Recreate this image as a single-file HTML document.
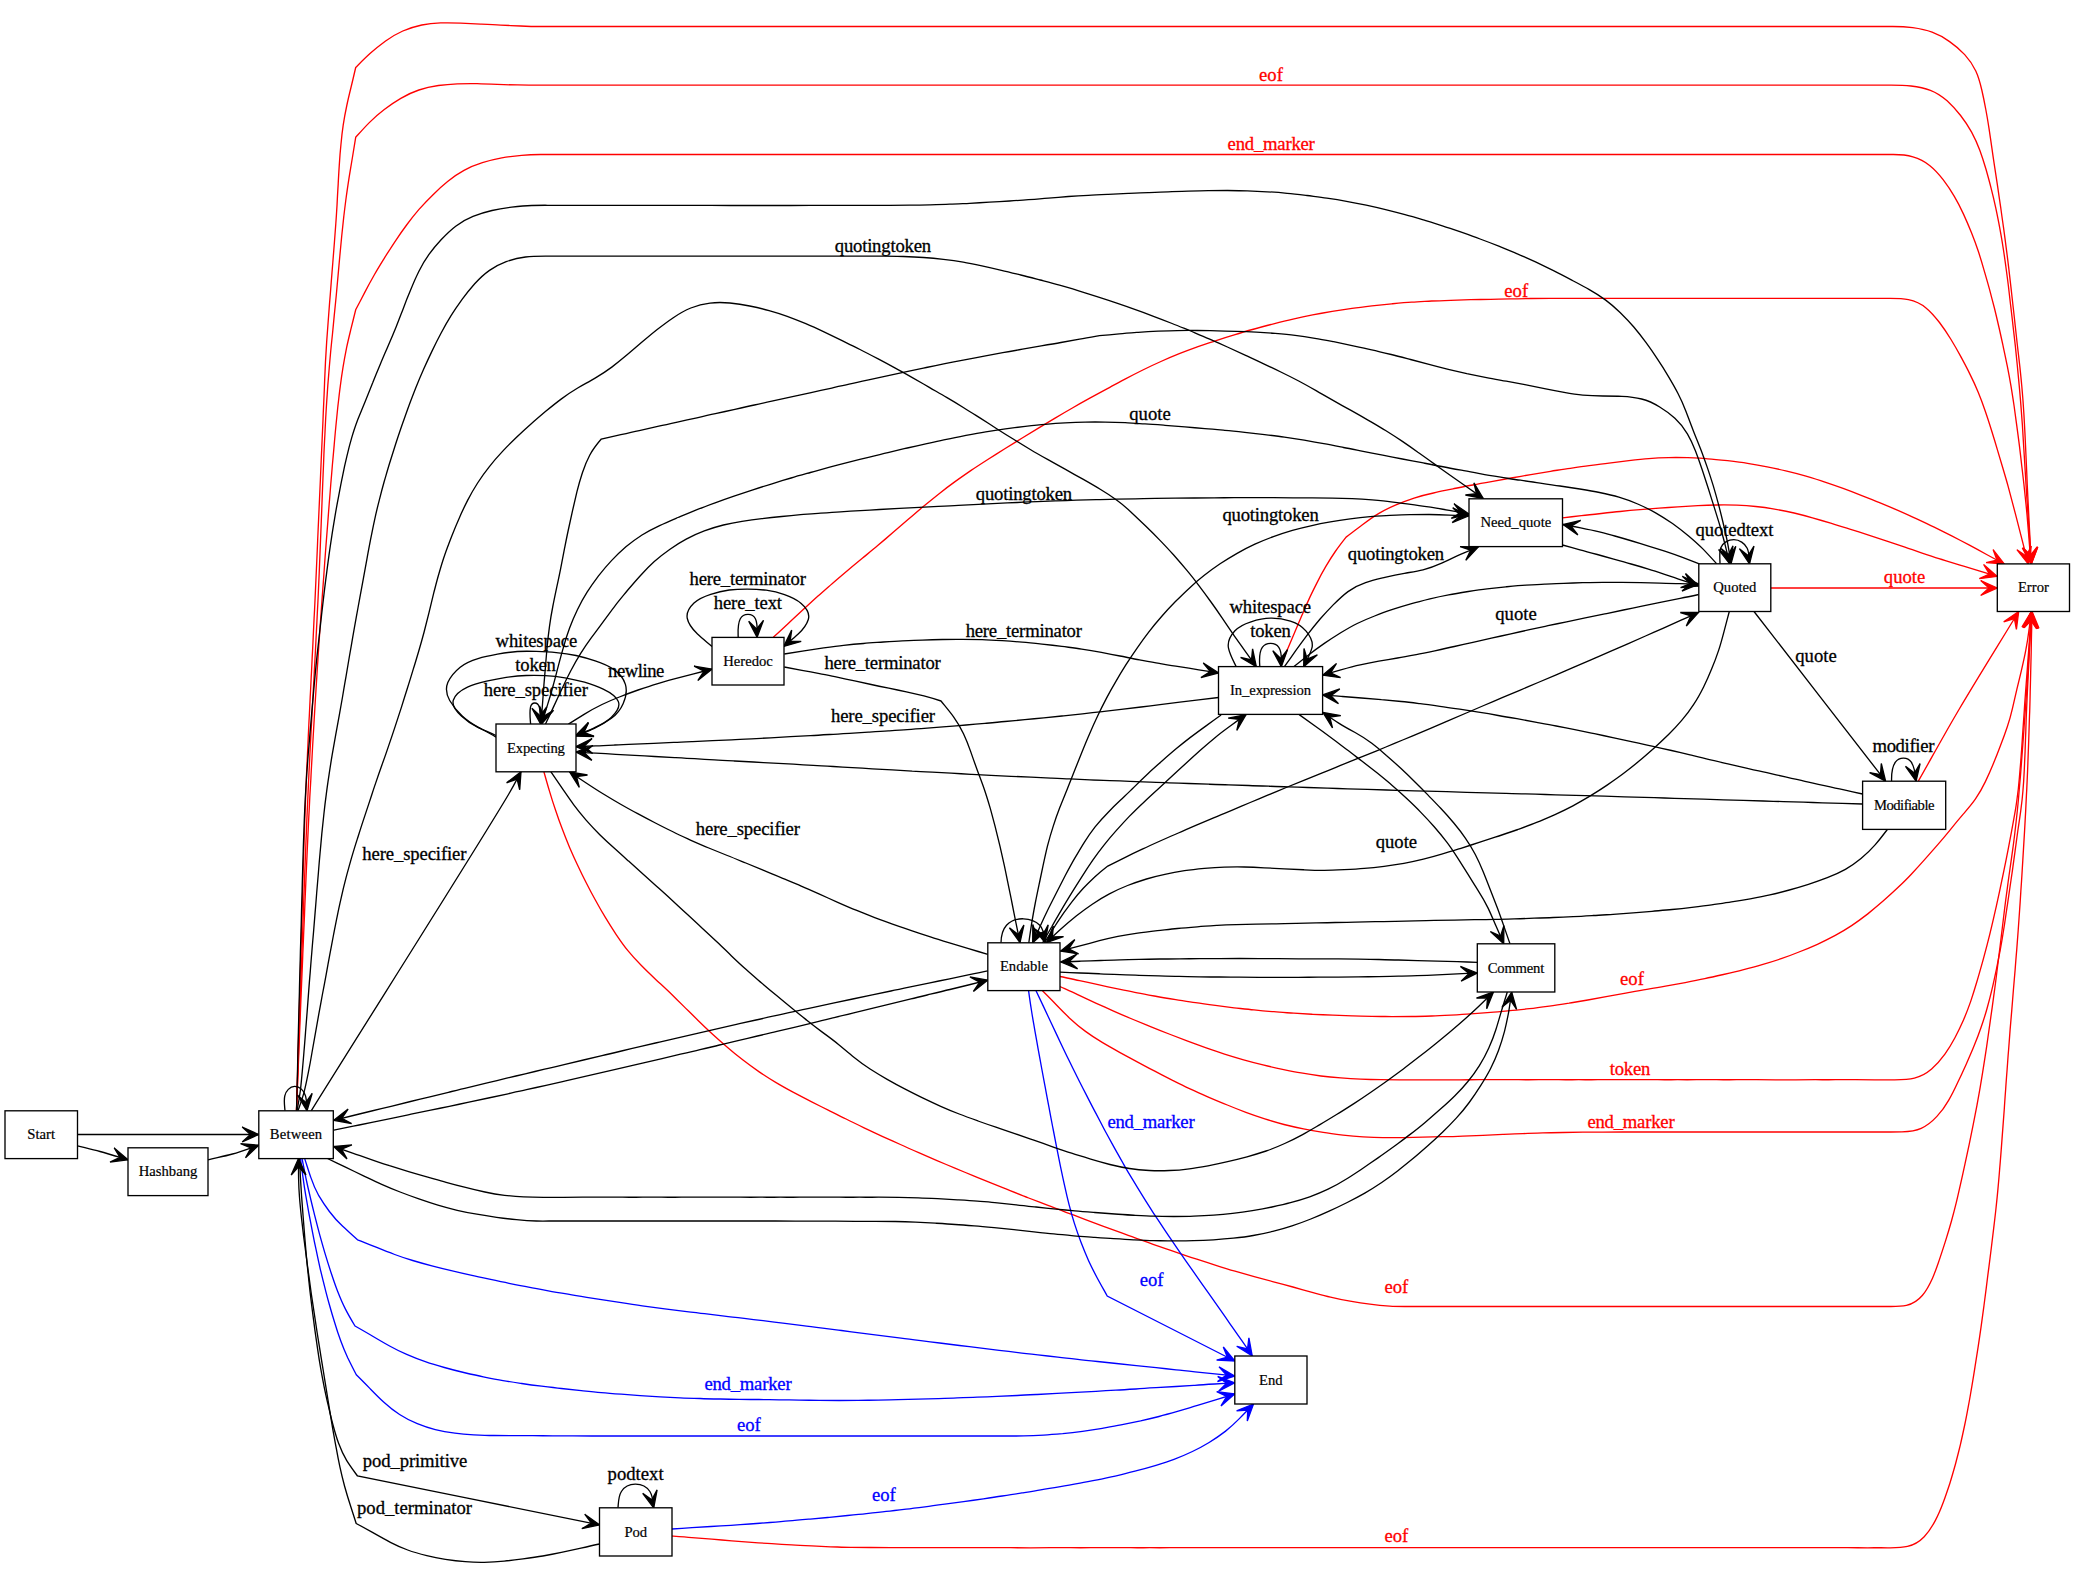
<!DOCTYPE html>
<html><head><meta charset="utf-8"><title>Tokenizer state diagram</title>
<style>html,body{margin:0;padding:0;background:#fff}svg{display:block}text{font-family:"Liberation Serif","DejaVu Serif",serif}</style></head><body>
<svg width="2075" height="1588" viewBox="0 0 2075 1588">
<rect width="2075" height="1588" fill="#fff"/>
<g fill="none" stroke-width="1.33" stroke-linejoin="miter">
<path d="M296.5,1110.8C296.7,1104.1 296.9,1097.4 297.1,1090.8C297.2,1084.4 297.4,1078.1 297.6,1071.8C297.8,1065.1 298,1058.4 298.1,1051.8C298.3,1045.1 298.5,1038.5 298.7,1031.8C298.9,1025.1 299.1,1018.5 299.2,1011.8C299.4,1005.5 299.6,999.1 299.8,992.8C300,986.1 300.2,979.5 300.3,972.8C300.5,966.2 300.7,959.5 300.9,952.8C301.1,946.2 301.3,939.5 301.5,932.8C301.7,926.5 301.8,920.2 302,913.8C302.2,907.2 302.4,900.5 302.6,893.9C302.7,887.2 302.9,880.5 303.1,873.9C303.3,867.2 303.5,860.5 303.7,853.9C303.9,847.5 304.1,841.2 304.3,834.9C304.5,828.2 304.7,821.6 305,814.9C305.2,808.2 305.5,801.6 305.7,794.9C306,788.3 306.3,781.6 306.5,774.9C306.8,768.6 307.1,762.3 307.4,756C307.7,749.3 308,742.6 308.3,736C308.6,729.3 308.9,722.7 309.3,716C309.6,709.7 309.9,703.4 310.2,697C310.6,690.4 310.9,683.7 311.2,677.1C311.6,670.4 311.9,663.7 312.2,657.1C312.6,650.4 312.9,643.8 313.2,637.1C313.5,630.8 313.8,624.5 314.1,618.1C314.5,611.5 314.8,604.8 315.1,598.2C315.4,591.5 315.7,584.8 316,578.2C316.3,571.5 316.6,564.9 316.9,558.2C317.2,551.9 317.5,545.5 317.7,539.2C318,532.6 318.3,525.9 318.6,519.2C318.9,512.6 319.2,505.9 319.5,499.3C319.8,492.6 320.1,485.9 320.4,479.3C320.7,473 320.9,466.6 321.2,460.3C321.5,453.6 321.8,447 322.1,440.3C322.4,433.7 322.7,427 323,420.3C323.2,414 323.5,407.7 323.8,401.4C324.1,394.7 324.4,388 324.6,381.4C324.9,374.7 325.2,368.1 325.5,361.4C325.9,354.8 326.3,348.1 326.7,341.4C327.2,335.1 327.6,328.8 328.1,322.5C328.6,315.9 329.1,309.2 329.6,302.6C330.2,295.9 330.7,289.3 331.2,282.6C331.7,276 332.3,269.3 332.8,262.7C333.3,256.4 333.8,250.1 334.3,243.7C334.8,237.1 335.3,230.5 335.8,223.8C336.3,217.2 336.7,210.5 337.1,203.9C337.4,197.2 337.8,190.5 338.2,183.9C338.5,177.6 338.9,171.2 339.3,164.9C339.7,158.3 340.2,151.6 340.9,145C341.5,138.3 342.2,131.7 343.2,125.1C344.2,118.5 345.4,112 346.8,105.5C348.1,99.3 349.6,93.1 351.1,87C352.7,80.5 354.2,74 355.7,67.5C360.4,62.8 365.1,58 370,53.6C375,49.1 380.2,44.9 385.6,41C391,37.1 396.7,33.7 402.8,31C408.9,28.4 415.3,26.4 421.8,25C428,23.7 434.3,23.1 440.6,22.9C447.3,22.7 453.9,22.8 460.6,23.1C467.3,23.4 473.9,23.8 480.6,24.1C487.2,24.4 493.9,24.7 500.6,25.1C507.2,25.4 513.9,25.7 520.5,26C527.2,26.3 533.9,26.5 540.5,26.5C547.2,26.5 553.9,26.5 560.5,26.5C567.2,26.5 573.9,26.5 580.5,26.5C587.2,26.5 593.9,26.5 600.6,26.5C606.9,26.5 613.2,26.5 619.6,26.5C626.2,26.5 632.9,26.5 639.6,26.5C646.2,26.5 652.9,26.5 659.6,26.5C666.2,26.5 672.9,26.5 679.6,26.5C686.2,26.5 692.9,26.5 699.6,26.5C706.2,26.5 712.9,26.5 719.6,26.5C726.2,26.5 732.9,26.5 739.6,26.5C746.3,26.5 752.9,26.5 759.6,26.5C766.3,26.5 772.9,26.5 779.6,26.5C785.9,26.5 792.3,26.5 798.6,26.5C805.3,26.5 811.9,26.5 818.6,26.5C825.3,26.5 831.9,26.5 838.6,26.5C845.3,26.5 851.9,26.5 858.6,26.5C865.3,26.5 871.9,26.5 878.6,26.5C885.3,26.5 891.9,26.5 898.6,26.5C905.3,26.5 912,26.5 918.6,26.5C925.3,26.5 932,26.5 938.6,26.5C945.3,26.5 952,26.5 958.6,26.5C965,26.5 971.3,26.5 977.6,26.5C984.3,26.5 991,26.5 997.6,26.5C1004.3,26.5 1011,26.5 1017.6,26.5C1024.3,26.5 1031,26.5 1037.6,26.5C1044.3,26.5 1051,26.5 1057.6,26.5C1064.3,26.5 1071,26.5 1077.7,26.5C1084.3,26.5 1091,26.5 1097.7,26.5C1104.3,26.5 1111,26.5 1117.7,26.5C1124.3,26.5 1131,26.5 1137.7,26.5C1144,26.5 1150.3,26.5 1156.7,26.5C1163.3,26.5 1170,26.5 1176.7,26.5C1183.3,26.5 1190,26.5 1196.7,26.5C1203.3,26.5 1210,26.5 1216.7,26.5C1223.4,26.5 1230,26.5 1236.7,26.5C1243.4,26.5 1250,26.5 1256.7,26.5C1263.4,26.5 1270,26.5 1276.7,26.5C1283.4,26.5 1290,26.5 1296.7,26.5C1303.4,26.5 1310,26.5 1316.7,26.5C1323,26.5 1329.4,26.5 1335.7,26.5C1342.4,26.5 1349,26.5 1355.7,26.5C1362.4,26.5 1369,26.5 1375.7,26.5C1382.4,26.5 1389.1,26.5 1395.7,26.5C1402.4,26.5 1409.1,26.5 1415.7,26.5C1422.4,26.5 1429.1,26.5 1435.7,26.5C1442.4,26.5 1449.1,26.5 1455.7,26.5C1462.4,26.5 1469.1,26.5 1475.7,26.5C1482.4,26.5 1489.1,26.5 1495.7,26.5C1502.1,26.5 1508.4,26.5 1514.7,26.5C1521.4,26.5 1528.1,26.5 1534.7,26.5C1541.4,26.5 1548.1,26.5 1554.8,26.5C1561.4,26.5 1568.1,26.5 1574.8,26.5C1581.4,26.5 1588.1,26.5 1594.8,26.5C1601.4,26.5 1608.1,26.5 1614.8,26.5C1621.4,26.5 1628.1,26.5 1634.8,26.5C1641.4,26.5 1648.1,26.5 1654.8,26.5C1661.4,26.5 1668.1,26.5 1674.8,26.5C1681.1,26.5 1687.4,26.5 1693.8,26.5C1700.5,26.5 1707.1,26.5 1713.8,26.5C1720.5,26.5 1727.1,26.5 1733.8,26.5C1740.5,26.5 1747.1,26.5 1753.8,26.5C1760.5,26.5 1767.1,26.5 1773.8,26.5C1780.5,26.5 1787.1,26.5 1793.8,26.5C1800.5,26.5 1807.1,26.5 1813.8,26.5C1820.5,26.5 1827.1,26.5 1833.8,26.5C1840.5,26.5 1847.1,26.5 1853.8,26.5C1860.2,26.5 1866.5,26.5 1872.8,26.5C1879.5,26.5 1886.2,26.5 1892.8,26.5C1899.5,26.5 1906.1,26.8 1912.7,27.7C1919.3,28.6 1925.9,29.9 1932.1,32.2C1938.3,34.5 1944.2,37.7 1949.6,41.6C1955.1,45.4 1960.1,49.8 1964.7,54.6C1969.2,59.5 1973,65 1975.8,71C1978.6,77 1980.3,83.5 1981.8,90C1983.3,96.5 1984.6,103 1985.8,109.5C1987,115.8 1988,122 1989,128.3C1990,134.9 1990.9,141.5 1991.9,148.1C1992.8,154.7 1993.8,161.3 1994.8,167.9C1995.8,174.5 1996.8,181.1 1997.8,187.7C1998.7,194.3 1999.7,200.8 2000.7,207.4C2001.6,214 2002.5,220.7 2003.5,227.3C2004.4,233.9 2005.3,240.5 2006.1,247.1C2007,253.7 2007.8,260.3 2008.6,266.9C2009.4,273.6 2010.2,280.2 2010.9,286.8C2011.6,293.1 2012.3,299.4 2013,305.7C2013.8,312.3 2014.5,318.9 2015.2,325.6C2015.9,332.2 2016.6,338.8 2017.4,345.5C2018.2,352.1 2018.9,358.7 2019.7,365.3C2020.4,372 2021.1,378.6 2021.7,385.2C2022.3,391.9 2022.9,398.5 2023.3,405.2C2023.8,411.8 2024.2,418.5 2024.5,425.1C2024.9,431.8 2025.2,438.5 2025.5,445.1C2025.8,451.8 2026.1,458.4 2026.4,465.1C2026.7,471.4 2027,477.8 2027.2,484.1C2027.5,490.7 2027.9,497.4 2028.2,504.1C2028.5,510.7 2028.9,517.4 2029.2,524C2029.6,530.7 2029.9,537.4 2030.3,544C2030.6,550.7 2031,557.3 2031.3,564" stroke="#ff0000"/>
<polygon points="2031.3,564 2037.8,547 2030.9,555.7 2023.1,547.8" fill="#ff0000" stroke="#ff0000"/>
<path d="M296.5,1110.8C296.7,1104.1 297,1097.4 297.2,1090.8C297.4,1084.1 297.6,1077.4 297.9,1070.8C298.1,1064.1 298.3,1057.5 298.5,1050.8C298.7,1044.1 299,1037.5 299.2,1030.8C299.4,1024.1 299.6,1017.5 299.9,1010.8C300.1,1004.2 300.3,997.5 300.6,990.8C300.8,984.5 301,978.2 301.2,971.9C301.5,965.2 301.7,958.5 301.9,951.9C302.2,945.2 302.4,938.6 302.7,931.9C302.9,925.2 303.1,918.6 303.4,911.9C303.6,905.2 303.8,898.6 304.1,891.9C304.3,885.3 304.6,878.6 304.8,871.9C305.1,865.3 305.3,858.6 305.6,852C305.8,845.3 306.1,838.6 306.4,832C306.6,825.3 306.9,818.7 307.2,812C307.5,805.3 307.8,798.7 308.1,792C308.4,785.4 308.7,778.7 309,772.1C309.4,765.4 309.7,758.7 310,752.1C310.4,745.8 310.7,739.4 311,733.1C311.4,726.5 311.7,719.8 312.1,713.1C312.4,706.5 312.8,699.8 313.1,693.2C313.5,686.5 313.9,679.9 314.2,673.2C314.6,666.5 314.9,659.9 315.3,653.2C315.6,646.6 316,639.9 316.3,633.3C316.7,626.6 317,620 317.3,613.3C317.7,606.6 318,600 318.3,593.3C318.6,586.7 318.9,580 319.2,573.3C319.5,566.7 319.7,560 320,553.4C320.3,546.7 320.5,540 320.8,533.4C321.1,526.7 321.3,520.1 321.6,513.4C321.8,507.1 322.1,500.8 322.3,494.4C322.6,487.8 322.8,481.1 323.1,474.4C323.4,467.8 323.7,461.1 323.9,454.5C324.2,447.8 324.5,441.2 324.9,434.5C325.2,427.8 325.5,421.2 325.9,414.5C326.3,407.9 326.7,401.2 327.2,394.6C327.6,387.9 328.1,381.3 328.7,374.6C329.2,368 329.8,361.3 330.4,354.7C331,348.1 331.7,341.4 332.4,334.8C333,328.2 333.7,321.5 334.3,314.9C335,308.3 335.6,301.6 336.3,295C336.9,288.4 337.5,281.7 338.1,275.1C338.7,268.8 339.2,262.5 339.8,256.2C340.4,249.5 341.1,242.9 341.7,236.3C342.4,229.6 343.1,223 343.8,216.4C344.6,209.8 345.4,203.1 346.3,196.5C347.2,189.9 348.2,183.3 349.2,176.8C350.3,170.2 351.4,163.6 352.5,157C353.6,150.5 354.6,143.9 355.7,137.3C360.2,132.3 364.6,127.3 369.3,122.6C374,117.9 379,113.5 384.3,109.5C389.6,105.4 395.1,101.6 400.8,98.3C406.6,95 412.6,92.1 418.9,90C425.2,87.8 431.8,86.4 438.4,85.5C444.6,84.7 450.9,84.2 457.3,83.9C463.9,83.5 470.6,83.5 477.2,83.6C483.9,83.8 490.6,84.1 497.2,84.4C503.9,84.7 510.5,84.9 517.2,84.9C523.9,85 530.5,85.1 537.2,85.1C543.9,85.1 550.5,85.1 557.2,85.1C563.9,85.1 570.5,85.1 577.2,85.1C583.9,85.1 590.5,85.1 597.2,85.1C603.9,85.1 610.5,85.1 617.2,85.1C623.9,85.1 630.5,85.1 637.2,85.1C643.9,85.1 650.5,85.1 657.2,85.1C663.9,85.1 670.5,85.1 677.2,85.1C683.5,85.1 689.9,85.1 696.2,85.1C702.9,85.1 709.5,85.1 716.2,85.1C722.9,85.1 729.5,85.1 736.2,85.1C742.9,85.1 749.5,85.1 756.2,85.1C762.9,85.1 769.5,85.1 776.2,85.1C782.9,85.1 789.5,85.1 796.2,85.1C802.9,85.1 809.5,85.1 816.2,85.1C822.8,85.1 829.5,85.1 836.2,85.1C842.8,85.1 849.5,85.1 856.2,85.1C862.8,85.1 869.5,85.1 876.2,85.1C882.8,85.1 889.5,85.1 896.2,85.1C902.8,85.1 909.5,85.1 916.2,85.1C922.5,85.1 928.8,85.1 935.2,85.1C941.8,85.1 948.5,85.1 955.2,85.1C961.8,85.1 968.5,85.1 975.2,85.1C981.8,85.1 988.5,85.1 995.2,85.1C1001.8,85.1 1008.5,85.1 1015.2,85.1C1021.8,85.1 1028.5,85.1 1035.2,85.1C1041.8,85.1 1048.5,85.1 1055.2,85.1C1061.8,85.1 1068.5,85.1 1075.2,85.1C1081.8,85.1 1088.5,85.1 1095.2,85.1C1101.8,85.1 1108.5,85.1 1115.2,85.1C1121.8,85.1 1128.5,85.1 1135.2,85.1C1141.5,85.1 1147.8,85.1 1154.2,85.1C1160.8,85.1 1167.5,85.1 1174.1,85.1C1180.8,85.1 1187.5,85.1 1194.1,85.1C1200.8,85.1 1207.5,85.1 1214.1,85.1C1220.8,85.1 1227.5,85.1 1234.1,85.1C1240.8,85.1 1247.5,85.1 1254.1,85.1C1260.8,85.1 1267.5,85.1 1274.1,85.1C1280.8,85.1 1287.5,85.1 1294.1,85.1C1300.8,85.1 1307.5,85.1 1314.1,85.1C1320.8,85.1 1327.5,85.1 1334.1,85.1C1340.8,85.1 1347.5,85.1 1354.1,85.1C1360.8,85.1 1367.5,85.1 1374.1,85.1C1380.5,85.1 1386.8,85.1 1393.1,85.1C1399.8,85.1 1406.5,85.1 1413.1,85.1C1419.8,85.1 1426.5,85.1 1433.1,85.1C1439.8,85.1 1446.5,85.1 1453.1,85.1C1459.8,85.1 1466.5,85.1 1473.1,85.1C1479.8,85.1 1486.5,85.1 1493.1,85.1C1499.8,85.1 1506.4,85.1 1513.1,85.1C1519.8,85.1 1526.4,85.1 1533.1,85.1C1539.8,85.1 1546.4,85.1 1553.1,85.1C1559.8,85.1 1566.4,85.1 1573.1,85.1C1579.8,85.1 1586.4,85.1 1593.1,85.1C1599.8,85.1 1606.4,85.1 1613.1,85.1C1619.4,85.1 1625.8,85.1 1632.1,85.1C1638.8,85.1 1645.4,85.1 1652.1,85.1C1658.8,85.1 1665.4,85.1 1672.1,85.1C1678.8,85.1 1685.4,85.1 1692.1,85.1C1698.8,85.1 1705.4,85.1 1712.1,85.1C1718.8,85.1 1725.4,85.1 1732.1,85.1C1738.8,85.1 1745.4,85.1 1752.1,85.1C1758.8,85.1 1765.4,85.1 1772.1,85.1C1778.8,85.1 1785.4,85.1 1792.1,85.1C1798.8,85.1 1805.4,85.1 1812.1,85.1C1818.8,85.1 1825.4,85.1 1832.1,85.1C1838.4,85.1 1844.7,85.1 1851.1,85.1C1857.7,85.1 1864.4,85.1 1871.1,85.1C1877.7,85.1 1884.4,85.1 1891.1,85.1C1897.7,85.1 1904.4,85.2 1911,86C1917.6,86.8 1924.2,88 1930.4,90.3C1936.6,92.7 1942.1,96.4 1947.1,100.8C1952,105.3 1956.5,110.3 1960.6,115.5C1964.7,120.8 1968.4,126.3 1971.6,132.1C1974.8,138 1977.5,144.1 1979.8,150.3C1982.1,156.6 1984.1,162.9 1986,169.3C1987.8,175.7 1989.6,182.2 1991.2,188.6C1992.9,195.1 1994.4,201.6 1995.8,208.1C1997.1,214.3 1998.4,220.5 1999.5,226.7C2000.7,233.3 2001.9,239.8 2002.9,246.4C2004,253 2004.9,259.6 2005.8,266.2C2006.7,272.8 2007.6,279.4 2008.4,286C2009.2,292.7 2009.9,299.3 2010.7,305.9C2011.5,312.5 2012.3,319.1 2013,325.8C2013.8,332.4 2014.5,339 2015.3,345.6C2016,352.3 2016.7,358.9 2017.3,365.5C2018,372.2 2018.6,378.8 2019.2,385.4C2019.8,392.1 2020.4,398.7 2020.9,405.4C2021.4,412 2021.9,418.7 2022.4,425.3C2022.8,432 2023.2,438.6 2023.6,445.3C2024,451.6 2024.4,457.9 2024.8,464.2C2025.2,470.9 2025.6,477.5 2026,484.2C2026.4,490.8 2026.8,497.5 2027.3,504.1C2027.7,510.8 2028.2,517.4 2028.6,524.1C2029.1,530.7 2029.5,537.4 2030,544C2030.4,550.7 2030.9,557.3 2031.3,564" stroke="#ff0000"/>
<polygon points="2031.3,564 2037.6,546.9 2030.7,555.7 2022.8,547.9" fill="#ff0000" stroke="#ff0000"/>
<path d="M296.5,1110.8C296.8,1104.1 297,1097.4 297.3,1090.8C297.6,1084.4 297.8,1078.1 298.1,1071.8C298.3,1065.1 298.6,1058.5 298.9,1051.8C299.1,1045.5 299.4,1039.1 299.6,1032.8C299.9,1026.1 300.1,1019.5 300.4,1012.8C300.7,1006.2 300.9,999.5 301.2,992.8C301.5,986.5 301.7,980.2 302,973.9C302.3,967.2 302.6,960.5 302.8,953.9C303.1,947.5 303.4,941.2 303.6,934.9C303.9,928.2 304.2,921.6 304.5,914.9C304.7,908.2 305,901.6 305.3,894.9C305.6,888.6 305.8,882.3 306.1,875.9C306.4,869.3 306.7,862.6 307,856C307.3,849.3 307.6,842.6 307.9,836C308.2,829.7 308.5,823.3 308.8,817C309.2,810.3 309.5,803.7 309.8,797C310.2,790.7 310.5,784.4 310.9,778.1C311.2,771.4 311.6,764.7 312,758.1C312.3,751.4 312.7,744.8 313.1,738.1C313.5,731.8 313.8,725.5 314.2,719.1C314.6,712.5 315,705.8 315.4,699.2C315.8,692.9 316.2,686.5 316.6,680.2C317,673.6 317.4,666.9 317.9,660.3C318.3,653.6 318.7,647 319.2,640.3C319.6,634 320,627.7 320.5,621.3C321,614.7 321.4,608 321.9,601.4C322.4,595.1 322.8,588.8 323.3,582.4C323.8,575.8 324.3,569.1 324.7,562.5C325.2,555.9 325.7,549.2 326.2,542.6C326.7,536.2 327.2,529.9 327.7,523.6C328.2,517 328.7,510.3 329.2,503.7C329.8,497 330.3,490.4 330.8,483.7C331.4,477.4 331.9,471.1 332.4,464.8C333,458.2 333.6,451.5 334.2,444.9C334.7,438.6 335.3,432.3 335.9,426C336.6,419.3 337.2,412.7 337.9,406.1C338.7,399.4 339.4,392.8 340.3,386.2C341.1,379.9 342,373.6 343,367.4C344.1,360.8 345.3,354.3 346.6,347.7C347.9,341.5 349.4,335.4 350.9,329.2C352.5,322.7 354.1,316.3 355.7,309.8C358.8,303.9 361.8,298 364.9,292.1C368,286.1 371.2,280.3 374.5,274.5C377.8,268.7 381.3,263.1 384.8,257.4C388.4,251.8 392,246.1 395.7,240.6C399.2,235.3 402.8,230.1 406.6,225C410.5,219.7 414.7,214.4 419,209.4C423.4,204.4 428,199.5 432.8,194.9C437.5,190.2 442.4,185.7 447.6,181.5C452.7,177.3 458.2,173.4 464,170.3C469.9,167.1 476.1,164.7 482.4,162.7C488.8,160.6 495.3,159.1 501.8,157.9C508.4,156.7 515,155.8 521.6,155.3C527.9,154.7 534.2,154.5 540.6,154.5C547.2,154.5 553.9,154.5 560.6,154.5C567.2,154.5 573.9,154.5 580.6,154.5C587.2,154.5 593.9,154.5 600.6,154.5C607.2,154.5 613.9,154.5 620.6,154.5C627.2,154.5 633.9,154.5 640.6,154.5C647.2,154.5 653.9,154.5 660.6,154.5C667.2,154.5 673.9,154.5 680.5,154.5C687.2,154.5 693.9,154.5 700.5,154.5C706.9,154.5 713.2,154.5 719.5,154.5C726.2,154.5 732.9,154.5 739.5,154.5C746.2,154.5 752.9,154.5 759.5,154.5C766.2,154.5 772.9,154.5 779.5,154.5C786.2,154.5 792.9,154.5 799.5,154.5C806.2,154.5 812.9,154.5 819.5,154.5C826.2,154.5 832.8,154.5 839.5,154.5C846.2,154.5 852.8,154.5 859.5,154.5C866.2,154.5 872.8,154.5 879.5,154.5C885.8,154.5 892.2,154.5 898.5,154.5C905.2,154.5 911.8,154.5 918.5,154.5C925.2,154.5 931.8,154.5 938.5,154.5C945.2,154.5 951.8,154.5 958.5,154.5C965.2,154.5 971.8,154.5 978.5,154.5C985.1,154.5 991.8,154.5 998.5,154.5C1005.1,154.5 1011.8,154.5 1018.5,154.5C1025.1,154.5 1031.8,154.5 1038.5,154.5C1045.1,154.5 1051.8,154.5 1058.5,154.5C1064.8,154.5 1071.1,154.5 1077.5,154.5C1084.1,154.5 1090.8,154.5 1097.5,154.5C1104.1,154.5 1110.8,154.5 1117.5,154.5C1124.1,154.5 1130.8,154.5 1137.4,154.5C1144.1,154.5 1150.8,154.5 1157.4,154.5C1164.1,154.5 1170.8,154.5 1177.4,154.5C1184.1,154.5 1190.8,154.5 1197.4,154.5C1204.1,154.5 1210.8,154.5 1217.4,154.5C1223.8,154.5 1230.1,154.5 1236.4,154.5C1243.1,154.5 1249.8,154.5 1256.4,154.5C1263.1,154.5 1269.8,154.5 1276.4,154.5C1283.1,154.5 1289.7,154.5 1296.4,154.5C1303.1,154.5 1309.7,154.5 1316.4,154.5C1323.1,154.5 1329.7,154.5 1336.4,154.5C1343.1,154.5 1349.7,154.5 1356.4,154.5C1363.1,154.5 1369.7,154.5 1376.4,154.5C1383.1,154.5 1389.7,154.5 1396.4,154.5C1402.7,154.5 1409.1,154.5 1415.4,154.5C1422.1,154.5 1428.7,154.5 1435.4,154.5C1442,154.5 1448.7,154.5 1455.4,154.5C1462,154.5 1468.7,154.5 1475.4,154.5C1482,154.5 1488.7,154.5 1495.4,154.5C1502,154.5 1508.7,154.5 1515.4,154.5C1522,154.5 1528.7,154.5 1535.4,154.5C1542,154.5 1548.7,154.5 1555.4,154.5C1561.7,154.5 1568,154.5 1574.4,154.5C1581,154.5 1587.7,154.5 1594.3,154.5C1601,154.5 1607.7,154.5 1614.3,154.5C1621,154.5 1627.7,154.5 1634.3,154.5C1641,154.5 1647.7,154.5 1654.3,154.5C1661,154.5 1667.7,154.5 1674.3,154.5C1681,154.5 1687.7,154.5 1694.3,154.5C1701,154.5 1707.7,154.5 1714.3,154.5C1721,154.5 1727.7,154.5 1734.3,154.5C1740.6,154.5 1747,154.5 1753.3,154.5C1760,154.5 1766.6,154.5 1773.3,154.5C1780,154.5 1786.6,154.5 1793.3,154.5C1800,154.5 1806.6,154.5 1813.3,154.5C1820,154.5 1826.6,154.5 1833.3,154.5C1840,154.5 1846.6,154.5 1853.3,154.5C1860,154.5 1866.6,154.5 1873.3,154.5C1880,154.5 1886.6,154.4 1893.3,154.5C1899.9,154.5 1906.6,155 1912.9,156.9C1918.9,158.7 1924.6,161.5 1929.6,165.4C1934.8,169.5 1939.2,174.5 1943.3,179.8C1947.3,185 1951,190.6 1954.3,196.4C1957.7,202.1 1960.7,208.1 1963.5,214.1C1966.3,220.2 1968.9,226.3 1971.4,232.5C1973.9,238.7 1976.2,244.9 1978.3,251.3C1980.4,257.6 1982.3,264 1984.1,270.4C1986,276.8 1987.8,283.2 1989.6,289.6C1991.2,295.7 1992.8,301.9 1994.4,308C1996,314.5 1997.5,321 1999,327.5C2000.5,333.9 2001.9,340.5 2003.3,347C2004.7,353.5 2006.1,360 2007.4,366.6C2008.7,373.1 2009.9,379.6 2011,386.2C2012.1,392.8 2013.1,399.4 2014.1,406C2015,412.6 2015.9,419.2 2016.8,425.8C2017.7,432.4 2018.5,439 2019.4,445.6C2020.2,452.2 2021,458.8 2021.7,465.5C2022.5,471.8 2023.2,478 2023.9,484.3C2024.6,491 2025.3,497.6 2026,504.2C2026.7,510.9 2027.3,517.5 2027.8,524.1C2028.4,530.8 2028.9,537.4 2029.4,544.1C2029.9,550.7 2030.5,557.4 2031,564" stroke="#ff0000"/>
<polygon points="2031,564 2037.1,546.9 2030.3,555.7 2022.3,548" fill="#ff0000" stroke="#ff0000"/>
<path d="M773.3,637.3C778.2,632.8 783.1,628.3 788,623.7C792.9,619.2 797.8,614.7 802.7,610.1C807.6,605.6 812.5,601.1 817.4,596.6C822.4,592.2 827.3,587.7 832.4,583.4C837.4,579 842.5,574.7 847.6,570.4C852.5,566.4 857.4,562.4 862.3,558.3C867.4,554.1 872.6,549.9 877.7,545.6C882.8,541.3 887.8,536.9 892.9,532.6C897.9,528.2 903,523.9 908,519.5C913.1,515.2 918.1,510.8 923.3,506.6C928.4,502.3 933.5,498.1 938.8,493.9C944,489.8 949.3,485.8 954.7,481.9C960.1,478 965.6,474.2 971.1,470.4C976.6,466.7 982.2,463.1 987.8,459.5C993.5,455.9 999.1,452.4 1004.8,448.8C1010.4,445.3 1016.1,441.8 1021.8,438.3C1027.2,435 1032.6,431.7 1038,428.4C1043.7,424.9 1049.4,421.5 1055.1,418.1C1060.8,414.7 1066.6,411.3 1072.4,408C1078.1,404.7 1084,401.4 1089.8,398.2C1095.7,395 1101.5,391.8 1107.4,388.6C1113.2,385.4 1119.1,382.3 1125,379.1C1130.9,376 1136.8,373 1142.8,370C1148.7,367.1 1154.8,364.2 1160.9,361.5C1166.9,358.8 1173.1,356.2 1179.3,353.7C1185.5,351.3 1191.7,349 1198,346.7C1204.3,344.5 1210.6,342.3 1216.9,340.3C1223,338.3 1229,336.4 1235.1,334.6C1241.4,332.6 1247.8,330.8 1254.3,329C1260.7,327.2 1267.1,325.5 1273.6,323.8C1280,322.2 1286.5,320.6 1293,319.1C1299.5,317.6 1306,316.2 1312.6,314.9C1319.1,313.7 1325.7,312.5 1332.2,311.4C1338.8,310.3 1345.4,309.3 1352,308.4C1358.6,307.5 1365.2,306.7 1371.9,305.9C1378.5,305.1 1385.1,304.4 1391.7,303.8C1398.4,303.2 1405,302.6 1411.7,302.2C1418.3,301.7 1425,301.4 1431.6,301C1438,300.7 1444.3,300.5 1450.6,300.3C1457.3,300.1 1464,299.9 1470.6,299.7C1477.3,299.6 1483.9,299.4 1490.6,299.3C1497.3,299.1 1503.9,299 1510.6,298.9C1517.3,298.7 1523.9,298.6 1530.6,298.5C1537.3,298.4 1543.9,298.4 1550.6,298.4C1557.3,298.3 1563.9,298.3 1570.6,298.3C1577.3,298.3 1583.9,298.4 1590.6,298.4C1597.3,298.4 1603.9,298.4 1610.6,298.4C1617.3,298.4 1623.9,298.4 1630.6,298.4C1637.3,298.4 1643.9,298.4 1650.6,298.4C1656.9,298.4 1663.3,298.4 1669.6,298.4C1676.3,298.4 1682.9,298.4 1689.6,298.4C1696.3,298.4 1702.9,298.4 1709.6,298.4C1716.3,298.4 1722.9,298.4 1729.6,298.4C1736.2,298.4 1742.9,298.4 1749.6,298.4C1756.2,298.4 1762.9,298.4 1769.6,298.4C1776.2,298.4 1782.9,298.4 1789.6,298.4C1796.2,298.4 1802.9,298.4 1809.6,298.4C1816.2,298.4 1822.9,298.4 1829.6,298.4C1836.2,298.4 1842.9,298.4 1849.6,298.4C1856.2,298.4 1862.9,298.4 1869.6,298.4C1875.9,298.4 1882.2,298.4 1888.6,298.4C1895.2,298.4 1901.9,298.3 1908.4,299.6C1914.9,300.9 1921,303.7 1926,307.9C1931.1,312 1935.4,317.2 1939.5,322.5C1943.5,327.8 1947.2,333.3 1950.7,339C1954.2,344.7 1957.5,350.5 1960.7,356.4C1963.8,362.2 1967,368.1 1969.9,374.1C1972.9,380 1975.7,386.1 1978.2,392.2C1980.8,398.4 1983.1,404.7 1985.2,411C1987.4,417.3 1989.4,423.6 1991.4,430C1993.4,436.4 1995.3,442.7 1997.2,449.1C1999,455.2 2000.8,461.3 2002.6,467.3C2004.5,473.7 2006.4,480.1 2008.2,486.6C2009.9,493 2011.6,499.4 2013.3,505.9C2015,512.3 2016.7,518.8 2018.3,525.2C2020,531.7 2021.6,538.2 2023.3,544.6C2024.9,551.1 2026.6,557.5 2028.2,564" stroke="#ff0000"/>
<polygon points="2028.2,564 2031.3,546.1 2026.2,556 2016.9,549.7" fill="#ff0000" stroke="#ff0000"/>
<path d="M1280.2,666.7C1282.5,661.2 1284.9,655.6 1287.2,650.1C1289.5,644.6 1291.8,639.1 1294.2,633.5C1296.7,627.7 1299.1,621.9 1301.6,616.1C1304,610.5 1306.3,605 1308.8,599.6C1311.3,594.1 1314,588.7 1316.7,583.4C1319.5,577.7 1322.5,572.1 1325.7,566.7C1328.7,561.5 1331.9,556.4 1335.3,551.5C1338.7,546.5 1342.4,541.8 1346.1,537.1C1351.4,533.1 1356.7,529 1362.1,525C1367.4,521 1372.7,517 1378.5,513.6C1383.9,510.4 1389.6,507.6 1395.4,505.1C1401.5,502.5 1407.8,500.2 1414.1,498.1C1420.5,496 1426.9,494.4 1433.5,493C1440,491.5 1446.5,490.2 1453,488.8C1459.6,487.5 1466.1,486.2 1472.7,485C1478.9,483.8 1485.1,482.7 1491.4,481.6C1497.9,480.4 1504.5,479.2 1511.1,478C1517.7,476.9 1524.2,475.7 1530.8,474.6C1537.4,473.5 1544,472.4 1550.5,471.3C1557.1,470.3 1563.7,469.2 1570.3,468.3C1576.6,467.4 1582.9,466.5 1589.2,465.7C1595.8,464.9 1602.4,464.1 1609,463.2C1615.6,462.4 1622.2,461.5 1628.9,460.7C1635.5,459.9 1642.1,459.1 1648.8,458.6C1655.4,458 1662.1,457.7 1668.7,457.6C1675.1,457.4 1681.4,457.5 1687.7,457.7C1694.4,458 1701.1,458.3 1707.7,458.8C1714.4,459.3 1721,460 1727.6,460.7C1734.3,461.5 1740.9,462.3 1747.5,463.4C1754.1,464.4 1760.6,465.5 1767.2,466.8C1773.4,468 1779.6,469.4 1785.8,470.9C1792.2,472.4 1798.7,474.1 1805.1,475.9C1811.5,477.8 1817.9,479.7 1824.2,481.8C1830.6,483.9 1836.9,486.1 1843.1,488.4C1849.4,490.7 1855.6,493.1 1861.8,495.6C1867.7,497.9 1873.6,500.2 1879.5,502.7C1885.6,505.2 1891.8,507.8 1897.9,510.4C1904,513.1 1910.1,515.8 1916.2,518.7C1922.2,521.5 1928.2,524.3 1934.2,527.2C1940.2,530.2 1946.2,533.1 1952.2,536.1C1957.8,539 1963.4,542 1969,544.9C1974.9,548.1 1980.7,551.3 1986.6,554.5C1992.5,557.7 1998.3,560.8 2004.2,564" stroke="#ff0000"/>
<polygon points="2004.2,564 1993.1,549.6 1996.9,560.1 1986.1,562.6" fill="#ff0000" stroke="#ff0000"/>
<path d="M1562.5,517.8C1568.8,517.1 1575.1,516.4 1581.4,515.7C1588,514.9 1594.6,514.2 1601.2,513.5C1607.5,512.8 1613.8,512.1 1620.1,511.5C1626.8,510.8 1633.4,510.2 1640,509.7C1646.3,509.2 1652.6,508.7 1659,508.2C1665.3,507.7 1671.6,507.3 1677.9,506.8C1684.5,506.4 1691.2,506 1697.9,505.6C1704.2,505.3 1710.5,505.1 1716.8,505C1723.5,504.9 1730.2,504.9 1736.8,505.2C1743.1,505.4 1749.4,505.8 1755.7,506.5C1762,507.1 1768.3,508 1774.5,509.1C1781.1,510.2 1787.6,511.5 1794.1,513C1800.3,514.5 1806.4,516.1 1812.5,517.8C1818.6,519.6 1824.6,521.4 1830.7,523.2C1837.1,525.2 1843.4,527.2 1849.8,529.1C1855.8,531 1861.9,532.9 1867.9,534.8C1874.3,536.9 1880.6,539 1886.9,541.1C1892.9,543.1 1898.9,545.2 1904.9,547.2C1910.8,549.3 1916.8,551.3 1922.8,553.3C1929.2,555.4 1935.5,557.5 1941.9,559.5C1947.9,561.4 1953.9,563.2 1960,565.1C1966.4,567 1972.8,569 1979.1,570.9C1985.2,572.7 1991.2,574.6 1997.3,576.4" stroke="#ff0000"/>
<polygon points="1997.3,576.4 1983.6,564.5 1989.4,574 1979.3,578.7" fill="#ff0000" stroke="#ff0000"/>
<path d="M1770.8,588C1777.1,588 1783.5,588 1789.8,588C1796.2,588 1802.5,588 1808.9,588C1814.9,588 1820.9,588 1826.9,588C1833.3,588 1839.6,588 1846,588C1852.3,588 1858.7,588 1865,588C1871.4,588 1877.7,588 1884,588C1890.4,588 1896.7,588 1903.1,588C1909.4,588 1915.8,588 1922.1,588C1928.5,588 1934.8,588 1941.2,588C1947.2,588 1953.2,588 1959.2,588C1965.6,588 1971.9,588 1978.3,588C1984.6,588 1991,588 1997.3,588" stroke="#ff0000"/>
<polygon points="1997.3,588 1980.7,580.6 1989,588 1980.7,595.4" fill="#ff0000" stroke="#ff0000"/>
<path d="M1918.3,781.2C1931.9,757.3 1943.9,735.1 1959,709.5C1976.8,679.3 1998.8,644.2 2018.7,611.5" stroke="#ff0000"/>
<polygon points="2018.7,611.5 2003.7,621.8 2014.4,618.6 2016.4,629.5" fill="#ff0000" stroke="#ff0000"/>
<path d="M1060,976.5C1066.5,977.9 1073,979.2 1079.6,980.7C1085.8,982 1091.9,983.3 1098.1,984.7C1104.6,986.1 1111.2,987.5 1117.7,988.9C1124.2,990.2 1130.7,991.6 1137.3,992.8C1143.8,994.1 1150.4,995.3 1156.9,996.5C1163.2,997.6 1169.4,998.6 1175.7,999.6C1182.3,1000.6 1188.9,1001.7 1195.5,1002.6C1202,1003.6 1208.6,1004.5 1215.3,1005.4C1221.5,1006.2 1227.8,1007 1234.1,1007.8C1240.7,1008.5 1247.4,1009.3 1254,1009.9C1260.6,1010.6 1267.3,1011.2 1273.9,1011.7C1280.5,1012.3 1287.2,1012.7 1293.8,1013.2C1300.2,1013.6 1306.5,1013.9 1312.8,1014.3C1319.5,1014.6 1326.1,1014.9 1332.8,1015.2C1339.4,1015.4 1346.1,1015.7 1352.8,1015.9C1359.1,1016.1 1365.4,1016.2 1371.8,1016.3C1378.4,1016.5 1385.1,1016.5 1391.8,1016.6C1398.4,1016.6 1405.1,1016.6 1411.8,1016.5C1418.4,1016.4 1425.1,1016.2 1431.7,1016C1438.1,1015.8 1444.4,1015.5 1450.7,1015.2C1457.4,1014.8 1464,1014.4 1470.7,1013.9C1477.3,1013.5 1484,1013 1490.6,1012.4C1496.9,1011.9 1503.2,1011.3 1509.6,1010.7C1516.2,1010.1 1522.8,1009.4 1529.4,1008.7C1536.1,1007.9 1542.7,1007 1549.3,1006.1C1555.9,1005.2 1562.5,1004.2 1569.1,1003.2C1575.3,1002.1 1581.5,1001.1 1587.8,1000C1594.3,998.8 1600.9,997.6 1607.5,996.4C1614,995.2 1620.6,994 1627.1,992.8C1633.7,991.6 1640.2,990.4 1646.8,989.3C1653,988.2 1659.3,987.1 1665.5,986.1C1672.1,984.9 1678.7,983.8 1685.2,982.6C1691.8,981.3 1698.3,980 1704.8,978.6C1711,977.3 1717.2,975.9 1723.4,974.5C1729.9,973 1736.4,971.5 1742.8,969.9C1749.3,968.2 1755.7,966.5 1762.1,964.7C1768.5,962.8 1774.9,960.8 1781.2,958.7C1787.2,956.6 1793.1,954.4 1799,952C1805.2,949.6 1811.4,947 1817.4,944.3C1823.5,941.5 1829.5,938.5 1835.3,935.4C1840.9,932.3 1846.3,929.1 1851.6,925.6C1857.2,921.9 1862.5,918 1867.8,913.9C1873,909.7 1878.1,905.4 1883.1,901.1C1888.1,896.7 1893.1,892.2 1897.9,887.6C1902.5,883.2 1907,878.8 1911.3,874.2C1915.9,869.3 1920.4,864.4 1924.8,859.4C1929.2,854.4 1933.6,849.4 1938,844.4C1942.1,839.6 1946.2,834.7 1950.2,829.8C1954.4,824.6 1958.6,819.5 1963,814.4C1967.3,809.4 1971.7,804.4 1975.5,798.9C1979.3,793.4 1982.5,787.6 1985.4,781.6C1988.1,775.9 1990.7,770.1 1993.1,764.2C1995.7,758.1 1998.2,751.9 2000.5,745.6C2002.9,739.4 2005.2,733.2 2007.3,726.8C2009.3,720.8 2011,714.7 2012.4,708.6C2013.9,702.1 2015.4,695.6 2016.9,689.1C2018.5,682.6 2020.1,676.1 2021.6,669.6C2023.1,663.1 2024.6,656.6 2025.8,650.1C2027,643.9 2028,637.6 2028.8,631.3C2029.7,624.7 2030.5,618.1 2031.3,611.5" stroke="#ff0000"/>
<polygon points="2031.3,611.5 2021.9,627.1 2030.3,619.7 2036.6,628.9" fill="#ff0000" stroke="#ff0000"/>
<path d="M1060,986.5C1066.1,989.3 1072.1,992 1078.2,994.9C1084.2,997.7 1090.3,1000.5 1096.3,1003.3C1102.1,1005.9 1107.8,1008.5 1113.6,1011.1C1119.7,1013.8 1125.8,1016.4 1132,1019C1138.1,1021.5 1144.3,1024.1 1150.5,1026.6C1156.7,1029.1 1162.9,1031.5 1169.1,1034C1175.3,1036.4 1181.5,1038.8 1187.7,1041.2C1193.6,1043.4 1199.6,1045.6 1205.5,1047.7C1211.8,1049.9 1218.1,1052.1 1224.5,1054.1C1230.8,1056.1 1237.2,1058 1243.6,1059.8C1250.1,1061.6 1256.5,1063.3 1263,1064.9C1269.5,1066.5 1276,1068 1282.5,1069.3C1288.7,1070.6 1294.9,1071.9 1301.1,1072.9C1307.7,1074.1 1314.3,1075.1 1320.9,1076C1327.5,1076.8 1334.1,1077.4 1340.8,1077.9C1347.4,1078.4 1354.1,1078.8 1360.7,1079.1C1367.4,1079.4 1374.1,1079.6 1380.7,1079.7C1387,1079.8 1393.4,1079.8 1399.7,1079.8C1406.4,1079.8 1413,1079.8 1419.7,1079.8C1426.4,1079.8 1433,1079.8 1439.7,1079.8C1446.4,1079.8 1453,1079.8 1459.7,1079.8C1466.4,1079.7 1473,1079.8 1479.7,1079.7C1486,1079.7 1492.4,1079.7 1498.7,1079.7C1505.4,1079.7 1512,1079.7 1518.7,1079.7C1525.3,1079.8 1532,1079.8 1538.7,1079.7C1545.3,1079.7 1552,1079.7 1558.7,1079.7C1565.3,1079.8 1572,1079.7 1578.7,1079.7C1585,1079.8 1591.3,1079.7 1597.7,1079.7C1604.3,1079.7 1611,1079.7 1617.7,1079.7C1624.3,1079.7 1631,1079.7 1637.7,1079.7C1644.3,1079.7 1651,1079.7 1657.7,1079.7C1664.3,1079.8 1671,1079.7 1677.6,1079.7C1684,1079.8 1690.3,1079.8 1696.6,1079.7C1703.3,1079.7 1710,1079.7 1716.6,1079.7C1723.3,1079.7 1730,1079.8 1736.6,1079.7C1743.3,1079.7 1750,1079.7 1756.6,1079.7C1763,1079.7 1769.3,1079.7 1775.6,1079.8C1782.3,1079.8 1789,1079.8 1795.6,1079.8C1802.3,1079.7 1808.9,1079.7 1815.6,1079.7C1822.3,1079.7 1828.9,1079.8 1835.6,1079.7C1842.3,1079.7 1848.9,1079.7 1855.6,1079.7C1861.9,1079.7 1868.3,1079.7 1874.6,1079.8C1881.3,1079.8 1887.9,1079.8 1894.6,1079.8C1901.3,1079.7 1908,1079.6 1914.4,1078.1C1920.8,1076.6 1926.6,1073.3 1931.6,1069C1936.6,1064.7 1941,1059.6 1944.9,1054.2C1948.5,1049 1951.8,1043.6 1954.8,1038C1957.9,1032.1 1960.8,1026.1 1963.5,1020C1966.1,1013.9 1968.5,1007.7 1970.7,1001.4C1972.8,995.1 1974.8,988.7 1976.7,982.3C1978.6,975.9 1980.4,969.5 1982.2,963.1C1983.9,957 1985.5,950.9 1987.1,944.8C1988.8,938.3 1990.4,931.8 1991.9,925.3C1993.5,918.9 1994.9,912.4 1996.4,905.8C1997.8,899.3 1999.3,892.8 2000.6,886.3C2002,879.8 2003.4,873.3 2004.7,866.7C2006,860.5 2007.2,854.3 2008.4,848.1C2009.6,841.6 2010.9,835 2012.1,828.4C2013.3,821.9 2014.5,815.3 2015.6,808.8C2016.7,802.2 2017.5,795.6 2018.3,789C2019,782.3 2019.6,775.7 2020.1,769.1C2020.7,762.7 2021.1,756.4 2021.6,750.1C2022,743.5 2022.5,736.8 2022.9,730.2C2023.4,723.5 2023.8,716.9 2024.3,710.2C2024.7,703.6 2025.2,696.9 2025.7,690.3C2026.2,683.6 2026.7,677 2027.2,670.3C2027.7,664 2028.1,657.7 2028.6,651.4C2029.1,644.7 2029.6,638.1 2030,631.4C2030.5,624.8 2031,618.1 2031.5,611.5" stroke="#ff0000"/>
<polygon points="2031.5,611.5 2022.9,627.5 2030.9,619.8 2037.7,628.6" fill="#ff0000" stroke="#ff0000"/>
<path d="M1042,990.3C1046.7,995 1051.4,999.7 1056,1004.5C1060.6,1009.3 1065.3,1014.1 1070.2,1018.7C1075,1023.2 1080.1,1027.5 1085.5,1031.4C1090.9,1035.4 1096.5,1039 1102.2,1042.4C1107.9,1045.8 1113.8,1049.1 1119.6,1052.3C1125.5,1055.5 1131.3,1058.6 1137.2,1061.8C1143,1065 1148.9,1068.1 1154.8,1071.2C1160.7,1074.3 1166.7,1077.4 1172.6,1080.4C1178.6,1083.3 1184.6,1086.3 1190.6,1089.1C1196.7,1091.9 1202.8,1094.6 1208.9,1097.3C1215,1099.9 1221.1,1102.5 1227.3,1105C1233.5,1107.6 1239.7,1110 1245.9,1112.3C1252.2,1114.6 1258.5,1116.8 1264.8,1118.9C1271.2,1120.9 1277.6,1122.8 1284,1124.5C1290.5,1126.1 1297,1127.6 1303.5,1128.9C1310.1,1130.3 1316.6,1131.4 1323.2,1132.4C1329.8,1133.5 1336.4,1134.3 1343,1135.1C1349.7,1135.8 1356.3,1136.4 1363,1136.9C1369.6,1137.3 1376.3,1137.6 1382.9,1137.6C1389.6,1137.7 1396.3,1137.7 1402.9,1137.6C1409.6,1137.5 1416.3,1137.3 1422.9,1137.2C1429.6,1137 1436.3,1136.9 1442.9,1136.7C1449.6,1136.6 1456.3,1136.4 1462.9,1136.1C1469.6,1135.8 1476.3,1135.6 1482.9,1135.3C1489.6,1135 1496.2,1134.7 1502.9,1134.4C1509.6,1134.1 1516.2,1133.8 1522.9,1133.6C1529.6,1133.3 1536.2,1133.1 1542.9,1132.9C1549.5,1132.7 1556.2,1132.6 1562.9,1132.5C1569.5,1132.4 1576.2,1132.3 1582.9,1132.2C1589.6,1132.2 1596.2,1132.1 1602.9,1132.1C1609.6,1132.1 1616.2,1132.1 1622.9,1132C1629.6,1132 1636.2,1132 1642.9,1132C1649.6,1132 1656.2,1132 1662.9,1132C1669.6,1132 1676.2,1132 1682.9,1132C1689.6,1132 1696.2,1132 1702.9,1132C1709.6,1132 1716.2,1132 1722.9,1132C1729.2,1132 1735.6,1132 1741.9,1132C1748.6,1132 1755.2,1132 1761.9,1132C1768.6,1132 1775.2,1132 1781.9,1132C1788.6,1132 1795.3,1132 1801.9,1132C1808.6,1132 1815.3,1132 1821.9,1132C1828.6,1132 1835.3,1132 1841.9,1132C1848.6,1132 1855.3,1132 1861.9,1132C1868.6,1132 1875.3,1132 1881.9,1132C1888.6,1132 1895.3,1132.1 1901.9,1131.9C1908.6,1131.6 1915.3,1130.9 1921.2,1128.3C1927.2,1125.6 1932.4,1121.3 1936.9,1116.4C1941.4,1111.6 1945.3,1106.1 1948.6,1100.3C1952,1094.6 1954.9,1088.6 1957.7,1082.5C1960.6,1076.5 1963.4,1070.4 1966.1,1064.4C1968.8,1058.3 1971.5,1052.2 1974,1046C1976.6,1039.8 1979,1033.6 1981.1,1027.3C1983.3,1021 1985.3,1014.7 1987.1,1008.2C1988.9,1001.8 1990.6,995.4 1992.1,988.9C1993.6,982.4 1995,975.9 1996.4,969.3C1997.7,962.8 1999,956.3 2000.3,949.7C2001.5,943.1 2002.6,936.6 2003.6,930C2004.7,923.4 2005.6,916.8 2006.6,910.2C2007.6,903.6 2008.6,897 2009.5,890.4C2010.5,883.8 2011.4,877.2 2012.4,870.6C2013.3,864 2014.2,857.4 2015.1,850.8C2016,844.2 2016.9,837.6 2017.8,831C2018.8,824.4 2019.8,817.8 2020.7,811.2C2021.6,804.6 2022.4,798 2022.9,791.3C2023.5,784.7 2023.9,778 2024.2,771.4C2024.5,764.7 2024.8,758 2025.1,751.4C2025.3,744.7 2025.5,738 2025.8,731.4C2026,724.7 2026.2,718.1 2026.5,711.4C2026.8,704.7 2027.1,698.1 2027.4,691.4C2027.7,684.7 2028.1,678.1 2028.4,671.4C2028.8,664.8 2029.1,658.1 2029.4,651.5C2029.8,644.8 2030.1,638.1 2030.5,631.5C2030.8,624.8 2031.2,618.2 2031.5,611.5" stroke="#ff0000"/>
<polygon points="2031.5,611.5 2023.3,627.7 2031.1,619.8 2038,628.5" fill="#ff0000" stroke="#ff0000"/>
<path d="M543.9,771.7C545.7,778.1 547.5,784.5 549.4,790.9C551.3,797.3 553.3,803.7 555.5,810C557.6,816.3 559.8,822.6 562.2,828.8C564.5,835 567,841.2 569.6,847.4C572.1,853.2 574.7,859 577.4,864.7C580.2,870.7 583.1,876.7 586.2,882.7C589.2,888.6 592.3,894.5 595.5,900.3C598.7,906.2 602,912 605.5,917.7C608.9,923.4 612.5,929 616.2,934.6C619.9,940.1 623.7,945.6 627.9,950.7C632.1,955.9 636.7,960.8 641.4,965.5C646,970.2 650.8,974.8 655.7,979.4C660.6,984 665.5,988.5 670.3,993.1C674.8,997.5 679.3,1002 683.8,1006.4C688.6,1011.1 693.3,1015.8 698.1,1020.4C702.9,1025.1 707.7,1029.7 712.6,1034.2C717.5,1038.7 722.5,1043.1 727.6,1047.4C732.7,1051.8 737.8,1056 743,1060.1C748.3,1064.2 753.7,1068.1 759.2,1071.9C764.7,1075.6 770.3,1079.2 776.1,1082.6C781.8,1086 787.6,1089.2 793.5,1092.4C799.4,1095.5 805.3,1098.6 811.2,1101.6C816.9,1104.5 822.5,1107.3 828.2,1110.1C834.2,1113.1 840.1,1116.1 846.1,1119C852.1,1122 858.1,1124.9 864.1,1127.8C870.1,1130.6 876.2,1133.5 882.2,1136.3C888.3,1139.1 894.3,1141.8 900.4,1144.5C906.5,1147.3 912.6,1150 918.7,1152.7C924.8,1155.3 930.9,1158 937,1160.6C943.2,1163.2 949.3,1165.8 955.5,1168.4C961.3,1170.8 967.2,1173.2 973,1175.6C979.2,1178.1 985.4,1180.7 991.5,1183.2C997.7,1185.7 1003.9,1188.2 1010.1,1190.6C1016.3,1193.1 1022.5,1195.6 1028.7,1198C1034.9,1200.4 1041.1,1202.8 1047.3,1205.2C1053.6,1207.5 1059.8,1209.9 1066,1212.3C1072.3,1214.6 1078.5,1216.9 1084.8,1219.3C1091,1221.6 1097.2,1224 1103.5,1226.3C1109.7,1228.6 1116,1230.9 1122.3,1233.2C1128.2,1235.4 1134.2,1237.5 1140.1,1239.6C1146.4,1241.9 1152.7,1244.1 1159,1246.3C1165.3,1248.5 1171.6,1250.7 1177.9,1252.8C1184.2,1255 1190.5,1257.1 1196.8,1259.2C1203.2,1261.3 1209.5,1263.3 1215.9,1265.3C1222.2,1267.3 1228.6,1269.3 1235,1271.2C1241.4,1273 1247.8,1274.8 1254.2,1276.6C1260.7,1278.4 1267.1,1280.1 1273.5,1281.8C1280,1283.5 1286.4,1285.3 1292.9,1287C1299,1288.7 1305.1,1290.4 1311.2,1292.1C1317.6,1293.8 1324,1295.6 1330.5,1297.1C1337,1298.7 1343.5,1300 1350.1,1301.2C1356.6,1302.3 1363.2,1303.3 1369.9,1304.1C1376.5,1305 1383.1,1305.7 1389.7,1306.2C1396.4,1306.6 1403,1306.5 1409.7,1306.5C1416.4,1306.5 1423,1306.5 1429.7,1306.5C1436.4,1306.5 1443,1306.5 1449.7,1306.5C1456.4,1306.5 1463,1306.5 1469.7,1306.5C1476,1306.5 1482.4,1306.5 1488.7,1306.5C1495.4,1306.5 1502,1306.5 1508.7,1306.5C1515.4,1306.5 1522,1306.5 1528.7,1306.5C1535.3,1306.5 1542,1306.5 1548.7,1306.5C1555.3,1306.5 1562,1306.5 1568.7,1306.5C1575.3,1306.5 1582,1306.5 1588.7,1306.5C1595.3,1306.5 1602,1306.5 1608.7,1306.5C1615.3,1306.5 1622,1306.5 1628.7,1306.5C1635.3,1306.5 1642,1306.5 1648.7,1306.5C1655,1306.5 1661.3,1306.5 1667.7,1306.5C1674.3,1306.5 1681,1306.5 1687.7,1306.5C1694.3,1306.5 1701,1306.5 1707.6,1306.5C1714.3,1306.5 1721,1306.5 1727.6,1306.5C1734.3,1306.5 1741,1306.5 1747.6,1306.5C1754.3,1306.5 1761,1306.5 1767.6,1306.5C1774.3,1306.5 1781,1306.5 1787.6,1306.5C1794.3,1306.5 1801,1306.5 1807.6,1306.5C1814.3,1306.5 1821,1306.5 1827.6,1306.5C1834,1306.5 1840.3,1306.5 1846.6,1306.5C1853.3,1306.5 1860,1306.5 1866.6,1306.5C1873.3,1306.5 1880,1306.5 1886.6,1306.5C1893.3,1306.5 1900,1306.8 1906.4,1305.4C1912.8,1304 1918.3,1300.3 1922.5,1295.3C1926.7,1290.2 1929.8,1284.2 1932.5,1278.2C1935.2,1272.1 1937.3,1265.7 1939.5,1259.4C1941.6,1253.1 1943.7,1246.8 1945.7,1240.4C1947.7,1234.1 1949.6,1227.7 1951.4,1221.3C1953.1,1215.2 1954.7,1209 1956.2,1202.9C1957.8,1196.4 1959.2,1189.9 1960.7,1183.4C1962.2,1176.9 1963.6,1170.4 1965,1163.9C1966.4,1157.4 1967.8,1150.8 1969.2,1144.3C1970.5,1137.8 1971.9,1131.3 1973.2,1124.7C1974.5,1118.2 1975.7,1111.6 1977,1105.1C1978.2,1098.5 1979.4,1092 1980.5,1085.4C1981.6,1078.8 1982.7,1072.3 1983.7,1065.7C1984.7,1059.4 1985.6,1053.2 1986.6,1046.9C1987.5,1040.3 1988.5,1033.7 1989.4,1027.1C1990.3,1020.5 1991.3,1013.9 1992.2,1007.3C1993.1,1000.7 1994,994.1 1994.9,987.5C1995.8,980.9 1996.6,974.3 1997.4,967.7C1998.3,961 1999.1,954.4 1999.9,947.8C2000.7,941.2 2001.5,934.6 2002.3,928C2003.1,921.3 2003.9,914.7 2004.7,908.1C2005.5,901.5 2006.4,894.9 2007.3,888.3C2008.1,882 2009,875.7 2009.9,869.5C2010.8,862.9 2011.8,856.3 2012.7,849.7C2013.6,843.1 2014.5,836.4 2015.2,829.8C2016,823.2 2016.7,816.6 2017.4,810C2018.1,803.3 2018.7,796.7 2019.2,790C2019.8,783.4 2020.4,776.8 2020.9,770.1C2021.4,763.5 2021.9,756.8 2022.4,750.2C2022.9,743.5 2023.4,736.9 2023.9,730.2C2024.3,723.6 2024.8,716.9 2025.3,710.3C2025.7,704 2026.2,697.7 2026.6,691.3C2027,684.7 2027.5,678 2027.9,671.4C2028.3,664.7 2028.7,658.1 2029.1,651.4C2029.5,644.8 2029.9,638.1 2030.3,631.5C2030.7,624.8 2031.1,618.2 2031.5,611.5" stroke="#ff0000"/>
<polygon points="2031.5,611.5 2023.1,627.6 2031,619.8 2037.9,628.5" fill="#ff0000" stroke="#ff0000"/>
<path d="M672,1536C678.6,1536.5 685.3,1537 691.9,1537.6C698.6,1538.1 705.2,1538.7 711.9,1539.2C718.5,1539.7 725.2,1540.3 731.8,1540.8C738.5,1541.3 745.1,1541.8 751.8,1542.3C758.4,1542.8 765.1,1543.3 771.7,1543.7C778.4,1544.1 785,1544.5 791.7,1544.9C798.3,1545.3 805,1545.6 811.7,1545.9C818,1546.2 824.3,1546.5 830.6,1546.8C837.3,1547 844,1547.3 850.6,1547.4C857.3,1547.5 864,1547.5 870.6,1547.5C877.3,1547.5 884,1547.6 890.6,1547.6C897.3,1547.6 904,1547.6 910.6,1547.6C917.3,1547.6 924,1547.6 930.6,1547.6C937.3,1547.6 944,1547.7 950.6,1547.7C957.3,1547.7 964,1547.7 970.6,1547.7C977.3,1547.7 984,1547.7 990.6,1547.7C997.3,1547.7 1004,1547.7 1010.6,1547.7C1017.3,1547.8 1024,1547.8 1030.6,1547.8C1037.3,1547.7 1044,1547.7 1050.6,1547.7C1057.3,1547.7 1064,1547.7 1070.6,1547.7C1077.3,1547.8 1084,1547.8 1090.7,1547.7C1097.3,1547.7 1104,1547.7 1110.7,1547.7C1117.3,1547.7 1124,1547.7 1130.7,1547.7C1137,1547.8 1143.3,1547.7 1149.7,1547.7C1156.3,1547.8 1163,1547.8 1169.7,1547.7C1176.3,1547.7 1183,1547.7 1189.7,1547.7C1196.3,1547.7 1203,1547.7 1209.7,1547.7C1216.3,1547.7 1223,1547.7 1229.7,1547.7C1236.3,1547.7 1243,1547.7 1249.7,1547.7C1256.3,1547.7 1263,1547.7 1269.7,1547.7C1276.3,1547.7 1283,1547.7 1289.7,1547.7C1296.3,1547.7 1303,1547.7 1309.7,1547.7C1316.3,1547.7 1323,1547.7 1329.7,1547.7C1336.3,1547.7 1343,1547.7 1349.7,1547.7C1356.3,1547.7 1363,1547.7 1369.7,1547.7C1376.3,1547.7 1383,1547.7 1389.7,1547.7C1396.3,1547.7 1403,1547.7 1409.7,1547.7C1416.4,1547.7 1423,1547.7 1429.7,1547.7C1436.4,1547.7 1443,1547.7 1449.7,1547.7C1456,1547.7 1462.4,1547.7 1468.7,1547.7C1475.4,1547.7 1482,1547.7 1488.7,1547.7C1495.4,1547.7 1502,1547.7 1508.7,1547.7C1515.4,1547.7 1522,1547.7 1528.7,1547.7C1535.4,1547.7 1542,1547.7 1548.7,1547.7C1555.4,1547.7 1562,1547.7 1568.7,1547.7C1575.4,1547.7 1582,1547.7 1588.7,1547.7C1595.4,1547.7 1602,1547.7 1608.7,1547.7C1615.4,1547.7 1622,1547.7 1628.7,1547.7C1635.4,1547.7 1642,1547.7 1648.7,1547.7C1655.4,1547.7 1662,1547.7 1668.7,1547.7C1675.4,1547.7 1682,1547.7 1688.7,1547.7C1695.4,1547.7 1702,1547.7 1708.7,1547.7C1715.4,1547.7 1722.1,1547.7 1728.7,1547.7C1735.4,1547.7 1742.1,1547.7 1748.7,1547.7C1755.1,1547.7 1761.4,1547.7 1767.7,1547.7C1774.4,1547.7 1781.1,1547.7 1787.7,1547.7C1794.4,1547.7 1801.1,1547.7 1807.7,1547.7C1814.4,1547.7 1821.1,1547.7 1827.7,1547.7C1834.4,1547.7 1841.1,1547.7 1847.7,1547.7C1854.4,1547.8 1861.1,1547.7 1867.7,1547.8C1874.4,1547.8 1881.1,1547.7 1887.7,1547.8C1894.4,1547.8 1901.1,1548 1907.5,1546.4C1913.9,1544.9 1919.6,1541.5 1924.2,1536.7C1928.7,1532 1932.3,1526.3 1935.4,1520.4C1938.6,1514.5 1941.1,1508.3 1943.4,1502.1C1945.7,1495.8 1947.8,1489.5 1949.9,1483.2C1951.9,1476.8 1953.7,1470.4 1955.5,1464C1957.2,1457.5 1958.8,1451.1 1960.4,1444.6C1961.9,1438.1 1963.3,1431.6 1964.7,1425C1966.1,1418.5 1967.3,1412 1968.5,1405.4C1969.7,1399.2 1970.7,1392.9 1971.8,1386.7C1972.9,1380.1 1974,1373.5 1975,1366.9C1976,1360.4 1977,1353.8 1978.1,1347.2C1979.1,1340.6 1980,1334 1981,1327.4C1981.9,1320.8 1982.8,1314.2 1983.7,1307.6C1984.6,1301 1985.4,1294.4 1986.3,1287.7C1987.1,1281.1 1987.9,1274.5 1988.8,1267.9C1989.6,1261.3 1990.4,1254.7 1991.3,1248C1992.1,1241.4 1992.9,1234.8 1993.7,1228.2C1994.5,1221.6 1995.3,1215 1996,1208.3C1996.7,1201.7 1997.4,1195.1 1998,1188.4C1998.6,1181.8 1999.2,1175.1 1999.7,1168.5C2000.3,1161.9 2000.8,1155.2 2001.3,1148.6C2001.8,1141.9 2002.3,1135.3 2002.8,1128.6C2003.3,1122 2003.8,1115.3 2004.3,1108.7C2004.7,1102 2005.2,1095.4 2005.7,1088.7C2006.1,1082.4 2006.6,1076.1 2007.1,1069.8C2007.6,1063.1 2008,1056.5 2008.6,1049.8C2009.1,1043.2 2009.6,1036.5 2010.1,1029.9C2010.7,1023.2 2011.2,1016.6 2011.8,1009.9C2012.3,1003.3 2012.9,996.6 2013.4,990C2014,983.4 2014.5,976.7 2015.1,970.1C2015.6,963.4 2016.1,956.8 2016.7,950.1C2017.2,943.5 2017.7,936.8 2018.2,930.2C2018.7,923.5 2019.1,916.9 2019.6,910.2C2020.1,903.6 2020.5,896.9 2020.9,890.3C2021.4,883.6 2021.8,877 2022.2,870.3C2022.6,863.7 2023,857 2023.4,850.4C2023.8,843.7 2024.2,837 2024.6,830.4C2025,823.7 2025.3,817.1 2025.7,810.4C2026,803.8 2026.3,797.1 2026.7,790.4C2027,783.8 2027.3,777.1 2027.6,770.5C2027.8,764.1 2028.1,757.8 2028.3,751.5C2028.6,744.8 2028.8,738.1 2029,731.5C2029.2,724.8 2029.4,718.1 2029.7,711.5C2029.9,704.8 2030.1,698.2 2030.2,691.5C2030.4,684.8 2030.6,678.2 2030.7,671.5C2030.9,664.8 2031,658.2 2031.2,651.5C2031.3,644.8 2031.4,638.2 2031.6,631.5C2031.7,624.8 2031.9,618.2 2032,611.5" stroke="#ff0000"/>
<polygon points="2032,611.5 2024.2,627.9 2031.8,619.8 2039,628.3" fill="#ff0000" stroke="#ff0000"/>
<path d="M304.6,1158.4C306.7,1164.7 308.6,1171.1 310.8,1177.4C312.9,1183.7 315.6,1189.9 318.8,1195.7C322,1201.2 325.5,1206.4 329.4,1211.5C333.4,1216.8 337.8,1221.8 342.7,1226.3C347.5,1230.9 352.6,1235.3 357.5,1239.8C363.7,1242.2 369.9,1244.7 376.1,1247.2C382.2,1249.7 388.4,1252.2 394.7,1254.5C400.6,1256.7 406.6,1258.7 412.7,1260.5C419.1,1262.4 425.5,1264.2 431.9,1265.9C438.4,1267.6 444.9,1269.2 451.3,1270.7C457.8,1272.3 464.3,1273.8 470.8,1275.2C477,1276.6 483.2,1277.9 489.4,1279.2C495.9,1280.6 502.4,1282 509,1283.3C515.5,1284.6 522,1285.9 528.6,1287.1C535.1,1288.4 541.7,1289.6 548.3,1290.8C554.8,1292 561.4,1293.1 568,1294.2C574.2,1295.3 580.4,1296.3 586.7,1297.3C593.3,1298.4 599.9,1299.4 606.4,1300.4C613,1301.5 619.6,1302.5 626.2,1303.4C632.8,1304.4 639.4,1305.4 646,1306.3C652.3,1307.2 658.5,1308 664.8,1308.9C671.4,1309.7 678,1310.5 684.7,1311.4C691.3,1312.2 697.9,1313 704.5,1313.7C711.1,1314.5 717.8,1315.3 724.4,1316.1C731,1316.8 737.6,1317.6 744.2,1318.4C750.5,1319.2 756.8,1319.9 763.1,1320.7C769.7,1321.5 776.3,1322.3 782.9,1323.1C789.6,1323.9 796.2,1324.8 802.8,1325.6C809.4,1326.5 816,1327.3 822.6,1328.1C828.9,1328.9 835.2,1329.7 841.5,1330.5C848.1,1331.4 854.7,1332.2 861.3,1333.1C867.9,1333.9 874.5,1334.8 881.1,1335.6C887.7,1336.4 894.4,1337.3 901,1338.1C907.6,1339 914.2,1339.8 920.8,1340.6C927.1,1341.4 933.4,1342.2 939.7,1343C946.3,1343.8 952.9,1344.7 959.5,1345.5C966.1,1346.3 972.7,1347.1 979.3,1347.9C986,1348.7 992.6,1349.5 999.2,1350.3C1005.5,1351.1 1011.8,1351.8 1018.1,1352.6C1024.7,1353.3 1031.3,1354.1 1037.9,1354.9C1044.5,1355.6 1051.2,1356.4 1057.8,1357.1C1064.4,1357.9 1071,1358.6 1077.7,1359.3C1084.3,1360.1 1090.9,1360.8 1097.5,1361.5C1103.8,1362.2 1110.1,1362.8 1116.4,1363.5C1123.1,1364.2 1129.7,1364.9 1136.3,1365.6C1142.9,1366.3 1149.6,1367 1156.2,1367.7C1162.8,1368.4 1169.5,1369.1 1176.1,1369.8C1182.4,1370.4 1188.7,1371.1 1195,1371.8C1201.6,1372.5 1208.2,1373.2 1214.9,1373.9C1221.5,1374.6 1228.1,1375.3 1234.7,1376" stroke="#0000ff"/>
<polygon points="1234.7,1376 1219,1366.9 1226.5,1375.1 1217.5,1381.6" fill="#0000ff" stroke="#0000ff"/>
<path d="M302,1158.4C303.3,1164.9 304.6,1171.5 305.9,1178C307.2,1184.2 308.6,1190.3 310.1,1196.5C311.6,1203 313.2,1209.4 314.8,1215.9C316.4,1222.3 318.1,1228.8 319.8,1235.2C321.5,1241.3 323.2,1247.4 325,1253.4C326.9,1259.8 328.9,1266.1 331,1272.5C333.1,1278.8 335.2,1285.1 337.6,1291.3C339.9,1297.2 342.3,1303 345.2,1308.6C348.2,1314.5 351.6,1320.3 355,1326C360.8,1329.3 366.6,1332.6 372.3,1336C378,1339.4 383.8,1342.8 389.6,1346C395.2,1349.1 400.9,1351.9 406.7,1354.4C412.8,1357.1 419,1359.5 425.3,1361.6C431.6,1363.8 438,1365.7 444.4,1367.5C450.8,1369.3 457.3,1371 463.8,1372.5C470.3,1374 476.8,1375.5 483.3,1376.9C489.8,1378.2 496.4,1379.5 503,1380.6C509.2,1381.7 515.5,1382.6 521.7,1383.5C528.3,1384.5 535,1385.4 541.6,1386.2C548.2,1387 554.8,1387.8 561.4,1388.5C568.1,1389.2 574.7,1389.9 581.3,1390.6C588,1391.3 594.6,1392 601.2,1392.6C607.9,1393.2 614.5,1393.7 621.2,1394.2C627.5,1394.7 633.8,1395.1 640.1,1395.6C646.8,1396 653.5,1396.4 660.1,1396.8C666.8,1397.1 673.4,1397.5 680.1,1397.8C686.8,1398.1 693.4,1398.3 700.1,1398.5C706.7,1398.8 713.4,1398.9 720.1,1399C726.4,1399.2 732.7,1399.3 739.1,1399.3C745.7,1399.4 752.4,1399.5 759.1,1399.5C765.8,1399.6 772.4,1399.7 779.1,1399.8C785.8,1399.9 792.4,1400 799.1,1400.1C805.8,1400.2 812.4,1400.3 819.1,1400.4C825.8,1400.5 832.4,1400.5 839.1,1400.5C845.4,1400.5 851.8,1400.5 858.1,1400.4C864.8,1400.3 871.4,1400.2 878.1,1400.1C884.8,1400 891.4,1399.9 898.1,1399.7C904.8,1399.5 911.4,1399.4 918.1,1399.2C924.8,1399 931.4,1398.8 938.1,1398.6C944.4,1398.4 950.8,1398.2 957.1,1397.9C963.8,1397.7 970.4,1397.5 977.1,1397.2C983.8,1396.9 990.4,1396.7 997.1,1396.4C1003.7,1396.1 1010.4,1395.8 1017.1,1395.5C1023.7,1395.1 1030.4,1394.8 1037,1394.5C1043.7,1394.1 1050.4,1393.8 1057,1393.4C1063.3,1393.1 1069.7,1392.7 1076,1392.4C1082.7,1392 1089.3,1391.7 1096,1391.3C1102.6,1390.9 1109.3,1390.5 1115.9,1390.1C1122.6,1389.8 1129.3,1389.4 1135.9,1389C1142.6,1388.5 1149.2,1388.1 1155.9,1387.7C1162.5,1387.3 1169.2,1386.9 1175.9,1386.5C1182.2,1386.1 1188.5,1385.7 1194.8,1385.3C1201.5,1384.8 1208.1,1384.4 1214.8,1384C1221.4,1383.6 1228.1,1383.2 1234.7,1382.8" stroke="#0000ff"/>
<polygon points="1234.7,1382.8 1217.7,1376.4 1226.5,1383.3 1218.6,1391.2" fill="#0000ff" stroke="#0000ff"/>
<path d="M300.5,1158.4C301.3,1164.7 302.1,1171 303,1177.3C303.8,1183.2 304.7,1189.2 305.7,1195.1C306.8,1201.4 307.9,1207.6 309,1213.9C310.2,1220.1 311.4,1226.3 312.6,1232.6C313.7,1238.5 314.9,1244.4 316.2,1250.2C317.5,1256.5 318.8,1262.7 320.2,1268.8C321.7,1275 323.2,1281.2 324.8,1287.3C326.2,1293.2 327.8,1299 329.4,1304.8C331.1,1310.9 332.9,1317 334.8,1323C336.6,1329.1 338.6,1335.1 340.8,1341.1C342.8,1346.7 345.2,1352.3 347.7,1357.7C350.5,1363.4 353.4,1369.1 356.3,1374.8C361,1379.4 365.7,1384.2 370.3,1388.9C374.8,1393.5 379.2,1398 383.9,1402.3C388.8,1406.8 394,1411 399.6,1414.5C405.2,1418.1 411.1,1421.2 417.3,1423.7C423.1,1426.1 429.1,1428.1 435.3,1429.6C441.7,1431.2 448.3,1432.3 454.9,1433.1C461.2,1433.9 467.5,1434.4 473.8,1434.8C480.5,1435.2 487.2,1435.5 493.8,1435.5C500.5,1435.6 507.1,1435.6 513.8,1435.6C520.1,1435.7 526.5,1435.7 532.8,1435.7C539.5,1435.7 546.1,1435.8 552.8,1435.8C559.5,1435.8 566.1,1435.9 572.8,1435.9C579.1,1435.9 585.5,1435.9 591.8,1436C598.5,1436 605.1,1436 611.8,1436C618.1,1436 624.5,1436 630.8,1436C637.5,1436 644.1,1436 650.8,1436C657.5,1436 664.1,1436 670.8,1436C677.1,1436 683.5,1436 689.8,1436C696.5,1436 703.1,1436 709.8,1436C716.5,1436 723.1,1436 729.8,1436C736.1,1436 742.4,1436 748.8,1436C755.4,1436 762.1,1436 768.8,1436C775.4,1436 782.1,1436 788.8,1436C795.1,1436 801.4,1436 807.8,1436C814.4,1436 821.1,1436 827.8,1436C834.1,1436 840.4,1436 846.8,1436C853.4,1436 860.1,1436 866.8,1436C873.4,1436 880.1,1436 886.8,1436C893.1,1436 899.4,1436 905.8,1436C912.4,1436 919.1,1436 925.8,1436C932.4,1436 939.1,1436 945.8,1436C952.1,1436 958.4,1436 964.8,1436C971.4,1436 978.1,1436 984.7,1436C991.1,1436 997.4,1436 1003.7,1436C1010.4,1436 1017.1,1436.1 1023.7,1435.9C1030.4,1435.8 1037.1,1435.5 1043.7,1435.1C1050,1434.7 1056.4,1434.2 1062.7,1433.7C1069.3,1433 1075.9,1432.2 1082.5,1431.3C1089.1,1430.4 1095.7,1429.4 1102.3,1428.3C1108.5,1427.2 1114.8,1426.1 1121,1424.9C1127.5,1423.6 1134,1422.3 1140.6,1420.9C1146.7,1419.5 1152.9,1418 1159,1416.5C1165.5,1414.8 1171.9,1413 1178.3,1411.2C1184.7,1409.3 1191.1,1407.4 1197.5,1405.4C1203.5,1403.5 1209.6,1401.7 1215.6,1399.8C1222,1397.8 1228.4,1395.9 1234.7,1394" stroke="#0000ff"/>
<polygon points="1234.7,1394 1216.7,1391.7 1226.8,1396.4 1221,1405.9" fill="#0000ff" stroke="#0000ff"/>
<path d="M672,1529C678.7,1528.6 685.3,1528.1 692,1527.7C698.3,1527.3 704.6,1526.9 710.9,1526.5C717.6,1526.1 724.2,1525.7 730.9,1525.3C737.2,1524.9 743.5,1524.4 749.8,1524C756.5,1523.5 763.1,1523 769.8,1522.5C776.1,1522 782.4,1521.5 788.7,1520.9C795.4,1520.4 802,1519.8 808.6,1519.2C814.9,1518.6 821.2,1518.1 827.6,1517.5C834.2,1516.8 840.8,1516.2 847.5,1515.5C853.8,1514.9 860.1,1514.3 866.4,1513.6C873,1512.9 879.6,1512.2 886.2,1511.4C892.9,1510.7 899.5,1509.9 906.1,1509.1C912.4,1508.4 918.7,1507.6 925,1506.8C931.6,1506 938.2,1505.1 944.8,1504.2C951.1,1503.4 957.3,1502.5 963.6,1501.7C970.2,1500.7 976.8,1499.8 983.4,1498.8C989.7,1497.9 995.9,1497 1002.2,1496C1008.8,1495 1015.4,1494 1022,1492.9C1028.2,1491.9 1034.5,1490.9 1040.7,1489.8C1047.3,1488.8 1053.9,1487.7 1060.4,1486.6C1067,1485.5 1073.6,1484.3 1080.1,1483.1C1086.4,1482 1092.6,1480.8 1098.8,1479.6C1105.3,1478.2 1111.9,1476.8 1118.3,1475.3C1124.5,1473.9 1130.6,1472.3 1136.8,1470.7C1143.2,1469 1149.6,1467.2 1156,1465.3C1162.1,1463.4 1168.1,1461.5 1174,1459.3C1180.3,1457 1186.4,1454.4 1192.4,1451.5C1198.2,1448.8 1203.7,1445.8 1209.1,1442.5C1214.8,1439 1220.3,1435.2 1225.6,1431.1C1230.5,1427.2 1235.2,1422.9 1239.6,1418.4C1244.3,1413.6 1248.9,1408.8 1253.5,1404" stroke="#0000ff"/>
<polygon points="1253.5,1404 1236.6,1410.8 1247.7,1410 1247.3,1421.1" fill="#0000ff" stroke="#0000ff"/>
<path d="M1035.8,990.3C1038.5,996 1041.2,1001.7 1043.9,1007.4C1046.7,1013.4 1049.6,1019.5 1052.4,1025.5C1055.1,1031.2 1057.8,1037 1060.5,1042.7C1063.2,1048.4 1065.9,1054.1 1068.7,1059.8C1071.6,1065.8 1074.6,1071.8 1077.6,1077.7C1080.4,1083.4 1083.3,1089 1086.2,1094.6C1089.2,1100.6 1092.3,1106.5 1095.4,1112.4C1098.3,1118 1101.3,1123.6 1104.2,1129.2C1107.2,1134.8 1110.2,1140.3 1113.3,1145.9C1116.5,1151.7 1119.8,1157.5 1123.1,1163.3C1126.2,1168.8 1129.4,1174.3 1132.7,1179.7C1135.9,1185.1 1139.2,1190.5 1142.6,1195.9C1146.1,1201.6 1149.7,1207.2 1153.3,1212.8C1156.8,1218.1 1160.3,1223.3 1163.8,1228.6C1167.3,1233.9 1170.9,1239.1 1174.5,1244.3C1178.2,1249.8 1182,1255.3 1185.8,1260.8C1189.4,1266 1193.1,1271.2 1196.7,1276.3C1200.5,1281.8 1204.4,1287.2 1208.2,1292.7C1211.8,1297.9 1215.5,1303.1 1219.1,1308.2C1222.8,1313.4 1226.4,1318.6 1230,1323.8C1233.9,1329.2 1237.7,1334.7 1241.5,1340.2C1245.1,1345.4 1248.7,1350.6 1252.2,1355.8" stroke="#0000ff"/>
<polygon points="1252.2,1355.8 1248.9,1337.9 1247.5,1349 1236.7,1346.3" fill="#0000ff" stroke="#0000ff"/>
<path d="M1028.5,990.2C1029.4,996.8 1030.3,1003.4 1031.4,1010C1032.4,1016.6 1033.6,1023.2 1034.7,1029.7C1035.9,1036.3 1037.1,1042.8 1038.2,1049.4C1039.4,1055.9 1040.6,1062.5 1041.8,1069C1043,1075.3 1044.1,1081.5 1045.3,1087.7C1046.5,1094.2 1047.7,1100.8 1049,1107.3C1050.2,1113.9 1051.4,1120.4 1052.7,1127C1054,1133.5 1055.2,1140 1056.5,1146.6C1057.8,1153.1 1059.1,1159.6 1060.4,1166.2C1061.8,1172.7 1063.1,1179.2 1064.6,1185.7C1066,1192.2 1067.5,1198.7 1069.2,1205.1C1070.8,1211.3 1072.5,1217.3 1074.4,1223.4C1076.4,1229.7 1078.6,1236 1081,1242.2C1083.4,1248.4 1085.9,1254.6 1088.6,1260.7C1091.4,1266.7 1094.4,1272.7 1097.5,1278.5C1100.7,1284.4 1104,1290.2 1107.2,1296C1149.8,1317.7 1192.2,1339.3 1234.8,1361" stroke="#0000ff"/>
<polygon points="1234.8,1361 1223.3,1346.9 1227.4,1357.2 1216.6,1360.1" fill="#0000ff" stroke="#0000ff"/>
<path d="M77.5,1134.5C83.5,1134.5 89.5,1134.5 95.5,1134.5C101.5,1134.5 107.5,1134.5 113.5,1134.5C119.6,1134.5 125.6,1134.5 131.6,1134.5C137.6,1134.5 143.6,1134.5 149.6,1134.5C155.6,1134.5 161.6,1134.5 167.6,1134.5C174,1134.5 180.3,1134.5 186.7,1134.5C192.7,1134.5 198.7,1134.5 204.7,1134.5C210.7,1134.5 216.7,1134.5 222.7,1134.5C228.7,1134.5 234.7,1134.5 240.7,1134.5C246.7,1134.5 252.7,1134.5 258.8,1134.5" stroke="#000000"/>
<polygon points="258.8,1134.5 242.2,1127.1 250.4,1134.5 242.2,1141.9" fill="#000000" stroke="#000000"/>
<path d="M77.5,1145.8C85,1147.7 92.1,1149.3 100,1151.5C108.8,1153.9 118.7,1157 128,1159.8" stroke="#000000"/>
<polygon points="128,1159.8 114.2,1147.9 120,1157.4 110,1162.1" fill="#000000" stroke="#000000"/>
<path d="M208,1159.8C216.2,1157.8 224.2,1156.3 232.5,1154C241.2,1151.5 250,1148.2 258.8,1145.2" stroke="#000000"/>
<polygon points="258.8,1145.2 240.6,1143.7 250.9,1148 245.5,1157.7" fill="#000000" stroke="#000000"/>
<path d="M285,1110.8C284.6,1105.8 283.7,1100.7 284.8,1095.8C285.9,1091 289.8,1086.6 294.6,1086.4C299.7,1086.2 304.1,1090.7 305.5,1095.9C306.8,1100.6 306.7,1105.8 307,1110.8" stroke="#000000"/>
<polygon points="307,1110.8 312.2,1093.3 305.9,1102.5 297.6,1095.2" fill="#000000" stroke="#000000"/>
<path d="M311.2,1110.8C377.1,1005.2 482.7,838.4 508.8,794C515.5,782.4 516.9,779.1 521,771.7" stroke="#000000"/>
<polygon points="521,771.7 506.6,782.8 517.1,779 519.7,789.8" fill="#000000" stroke="#000000"/>
<path d="M299.5,1158.4C299.8,1164.7 300.1,1171.1 300.4,1177.4C300.8,1183.7 301.2,1190.1 301.6,1196.4C302.1,1203 302.6,1209.7 303.1,1216.3C303.6,1222.7 304.1,1229 304.6,1235.3C305.1,1241.6 305.7,1247.9 306.2,1254.2C306.8,1260.6 307.4,1266.9 308.1,1273.2C308.7,1279.5 309.4,1285.8 310.1,1292.1C310.9,1298.4 311.6,1304.7 312.4,1311C313.3,1317.6 314.1,1324.2 315,1330.8C315.9,1337.1 316.8,1343.4 317.7,1349.6C318.6,1355.9 319.6,1362.2 320.7,1368.4C321.8,1374.7 323,1380.9 324.2,1387.1C325.5,1393.3 326.8,1399.5 328.3,1405.7C329.7,1411.9 331.1,1418 332.8,1424.2C334.5,1430.6 336.3,1437 338.6,1443.3C340.8,1449.2 343.3,1455 346.6,1460.4C349.9,1465.8 353.8,1470.9 357.5,1476C438.2,1492.2 518.8,1508.5 599.5,1524.8" stroke="#000000"/>
<polygon points="599.5,1524.8 584.7,1514.2 591.4,1523.1 581.8,1528.7" fill="#000000" stroke="#000000"/>
<path d="M599.5,1544C593.3,1545.3 587.1,1546.7 581,1548.1C574.5,1549.5 568,1551 561.4,1552.4C555.2,1553.7 549,1554.9 542.8,1556C536.2,1557.1 529.6,1558 523,1558.9C516.8,1559.7 510.5,1560.5 504.2,1561.1C497.5,1561.8 490.9,1562.2 484.2,1562.3C477.9,1562.4 471.6,1562.2 465.3,1561.7C458.6,1561.2 452,1560.4 445.4,1559.4C439.2,1558.4 433,1557.2 426.8,1555.7C420.4,1554.1 413.9,1552.3 407.7,1550C401.8,1547.8 396,1545.2 390.4,1542.3C384.5,1539.3 378.7,1536 372.9,1532.7C367.4,1529.6 361.8,1526.5 356.2,1523.5C354.2,1517.2 352.1,1510.8 350.1,1504.5C348.1,1498.5 346.3,1492.4 344.6,1486.3C342.9,1479.9 341.3,1473.4 339.9,1466.9C338.6,1460.7 337.4,1454.5 336.3,1448.3C335,1441.8 333.9,1435.2 332.7,1428.6C331.7,1422.4 330.6,1416.2 329.6,1409.9C328.5,1403.3 327.5,1396.8 326.4,1390.2C325.4,1384 324.4,1377.7 323.4,1371.5C322.3,1364.9 321.2,1358.3 320.2,1351.7C319.2,1345.5 318.2,1339.2 317.2,1333C316.2,1326.4 315.2,1319.8 314.2,1313.2C313.3,1307 312.3,1300.7 311.4,1294.5C310.5,1287.9 309.6,1281.3 308.7,1274.7C307.8,1268.4 307,1262.1 306.2,1255.9C305.3,1249.3 304.5,1242.7 303.6,1236.1C302.9,1229.8 302.1,1223.5 301.4,1217.2C300.7,1210.6 300,1204 299.5,1197.3C299,1191 298.7,1184.7 298.6,1178.4C298.5,1171.7 298.5,1165.1 298.5,1158.4" stroke="#000000"/>
<polygon points="298.5,1158.4 291.2,1175 298.5,1166.7 306,1175" fill="#000000" stroke="#000000"/>
<path d="M618,1507.7C618.5,1502.1 618.4,1496.1 621.4,1491.5C624.4,1486.8 630,1484.1 635.6,1484.2C641.2,1484.3 646.8,1486.9 649.9,1491.5C652.9,1496.2 653,1502.2 653.7,1507.8" stroke="#000000"/>
<polygon points="653.7,1507.8 657.1,1489.9 651.8,1499.7 642.7,1493.3" fill="#000000" stroke="#000000"/>
<path d="M296.5,1110.8C296.7,1104.1 296.8,1097.4 297,1090.8C297.2,1084.1 297.3,1077.4 297.5,1070.8C297.6,1064.1 297.8,1057.4 297.9,1050.8C298.1,1044.1 298.3,1037.4 298.4,1030.8C298.6,1024.1 298.7,1017.4 298.9,1010.8C299.1,1004.5 299.2,998.1 299.4,991.8C299.5,985.1 299.7,978.5 299.9,971.8C300.1,965.1 300.3,958.5 300.4,951.8C300.6,945.1 300.8,938.5 301,931.8C301.2,925.1 301.4,918.5 301.5,911.8C301.7,905.2 301.9,898.5 302.1,891.8C302.2,885.2 302.4,878.5 302.6,871.8C302.8,865.2 303,858.5 303.2,851.8C303.4,845.2 303.6,838.5 303.9,831.9C304.1,825.5 304.3,819.2 304.6,812.9C304.9,806.2 305.2,799.6 305.6,792.9C305.9,786.2 306.4,779.6 306.8,772.9C307.3,766.3 307.8,759.6 308.3,753C308.9,746.4 309.5,739.7 310,733.1C310.6,726.4 311.2,719.8 311.7,713.1C312.3,706.5 312.9,699.9 313.5,693.2C314,686.6 314.7,679.9 315.3,673.3C315.9,666.7 316.6,660 317.3,653.4C318,646.8 318.8,640.2 319.5,633.5C320.2,627.2 320.9,620.9 321.6,614.6C322.4,608 323.1,601.4 323.9,594.8C324.7,588.2 325.5,581.5 326.4,574.9C327.2,568.3 328.1,561.7 329,555.1C329.9,548.5 330.9,541.9 331.9,535.3C332.9,528.7 334,522.2 335.1,515.6C336.2,509 337.4,502.5 338.7,495.9C339.9,489.3 341.1,482.8 342.5,476.3C343.8,469.7 345.2,463.2 346.8,456.7C348.3,450.2 349.9,443.8 351.8,437.4C353.5,431.3 355.6,425.3 357.8,419.4C360.3,413.2 362.9,407.1 365.4,400.9C367.9,394.7 370.4,388.5 372.9,382.3C375.4,376.1 377.9,370 380.5,363.8C383,357.7 385.7,351.6 388.3,345.4C391,339.3 393.6,333.2 396.1,327C398.6,320.8 400.9,314.6 403.3,308.4C405.6,302.1 408.1,295.9 410.7,289.8C413.2,283.6 415.8,277.5 418.8,271.5C421.7,265.5 425.1,259.8 429,254.4C432.7,249.3 436.8,244.4 441.1,239.8C445.7,234.9 450.4,230.2 455.7,226.2C461,222.1 466.8,218.9 473,216.4C479.1,213.9 485.5,212 492,210.5C498.5,209 505.1,208 511.7,207.2C518.3,206.4 525,205.7 531.6,205.5C538.3,205.2 544.9,205.3 551.6,205.3C558.3,205.3 564.9,205.3 571.6,205.3C578.3,205.3 584.9,205.3 591.6,205.3C598.3,205.4 604.9,205.4 611.6,205.4C617.9,205.4 624.3,205.4 630.6,205.4C637.3,205.4 643.9,205.4 650.6,205.4C657.3,205.4 663.9,205.4 670.6,205.4C677.3,205.4 683.9,205.4 690.6,205.4C697.3,205.4 703.9,205.4 710.6,205.4C717.3,205.5 723.9,205.5 730.6,205.5C737.3,205.5 743.9,205.5 750.6,205.5C757.3,205.5 763.9,205.5 770.6,205.5C777.3,205.5 783.9,205.5 790.6,205.5C797.3,205.5 803.9,205.5 810.6,205.4C817.3,205.4 823.9,205.4 830.6,205.4C836.9,205.4 843.3,205.4 849.6,205.4C856.3,205.4 862.9,205.4 869.6,205.3C876.3,205.3 882.9,205.3 889.6,205.3C896.3,205.3 902.9,205.3 909.6,205.2C916.3,205.1 922.9,205 929.6,204.9C936.2,204.7 942.9,204.5 949.6,204.2C956.2,204 962.9,203.6 969.6,203.3C976.2,202.9 982.9,202.6 989.5,202.2C996.2,201.8 1002.8,201.4 1009.5,201C1015.8,200.6 1022.1,200.2 1028.4,199.7C1035.1,199.2 1041.7,198.7 1048.4,198.1C1055,197.6 1061.7,197 1068.3,196.5C1075,196.1 1081.6,195.7 1088.3,195.3C1094.9,194.9 1101.6,194.6 1108.2,194.3C1114.9,194 1121.6,193.7 1128.2,193.4C1134.9,193.1 1141.5,192.8 1148.2,192.6C1154.9,192.3 1161.5,192 1168.2,191.8C1174.9,191.5 1181.5,191.3 1188.2,191.1C1194.8,190.9 1201.5,190.7 1208.2,190.6C1214.5,190.5 1220.8,190.5 1227.2,190.5C1233.8,190.6 1240.5,190.7 1247.2,190.9C1253.8,191.1 1260.5,191.4 1267.1,191.8C1273.8,192.1 1280.4,192.6 1287.1,193.3C1293.7,193.9 1300.3,194.7 1307,195.5C1313.6,196.4 1320.2,197.2 1326.8,198.2C1333.4,199.1 1340,200.1 1346.5,201.3C1353.1,202.4 1359.6,203.7 1366.2,205.1C1372.7,206.5 1379.2,208 1385.6,209.6C1392.1,211.2 1398.6,212.9 1405,214.7C1411.1,216.3 1417.2,218.1 1423.3,219.9C1429.6,221.8 1436,223.7 1442.4,225.8C1448.7,227.8 1455,230 1461.3,232.2C1467.6,234.4 1473.9,236.6 1480.1,239C1486.4,241.3 1492.6,243.7 1498.8,246.2C1505,248.6 1511.1,251.2 1517.3,253.8C1523.4,256.4 1529.5,259.1 1535.5,261.9C1541.6,264.8 1547.6,267.7 1553.5,270.6C1559.5,273.6 1565.4,276.7 1571.3,279.8C1577.2,283 1583.1,286.1 1588.9,289.4C1594.7,292.7 1600.3,296.2 1605.7,300.1C1610.8,303.9 1615.6,308.1 1620.1,312.4C1624.9,317.1 1629.5,321.9 1633.8,327C1638.1,332.1 1642.2,337.3 1646.1,342.7C1650.1,348.1 1653.9,353.6 1657.5,359.2C1661.2,364.7 1664.8,370.4 1668.2,376.1C1671.6,381.8 1675,387.6 1678,393.5C1681.1,399.4 1683.7,405.5 1686.1,411.7C1688.5,418 1690.7,424.2 1693.2,430.4C1695.6,436.6 1698.2,442.8 1700.6,449C1702.9,454.9 1705,460.9 1707.1,466.9C1709.3,473.2 1711.3,479.5 1713.3,485.9C1715.2,492.3 1717,498.7 1718.7,505.1C1720.4,511.6 1722,518.1 1723.5,524.5C1725,531 1726.6,537.5 1727.8,544.1C1729.1,550.6 1730.1,557.2 1731,563.8" stroke="#000000"/>
<polygon points="1731,563.8 1735.8,546.3 1729.7,555.6 1721.1,548.5" fill="#000000" stroke="#000000"/>
<path d="M297,1110.8C298.3,1104.2 299.4,1097.6 300.3,1091C301.1,1084.4 301.7,1077.8 302.3,1071.1C302.9,1064.5 303.5,1057.8 304,1051.2C304.6,1044.6 305.1,1037.9 305.6,1031.3C306.1,1024.9 306.6,1018.6 307.1,1012.3C307.6,1005.7 308.1,999 308.6,992.4C309.1,985.7 309.6,979.1 310.2,972.4C310.7,965.8 311.2,959.1 311.8,952.5C312.3,945.8 312.9,939.2 313.5,932.5C314,925.9 314.6,919.3 315.1,912.6C315.7,906 316.2,899.3 316.7,892.7C317.3,886 317.8,879.4 318.4,872.7C318.9,866.4 319.4,860.1 320,853.8C320.6,847.2 321.2,840.5 321.8,833.9C322.5,827.2 323.2,820.6 323.9,814C324.6,807.4 325.4,800.7 326.3,794.1C327.1,787.5 328.1,780.9 329.1,774.3C330.1,767.7 331.1,761.1 332.2,754.6C333.4,748 334.5,741.4 335.7,734.9C336.9,728.3 338.1,721.7 339.3,715.2C340.4,708.9 341.5,702.7 342.6,696.5C343.7,689.9 344.8,683.3 346,676.7C347.1,670.2 348.2,663.6 349.3,657C350.5,650.4 351.6,643.9 352.7,637.3C353.9,630.7 355,624.2 356.2,617.6C357.4,611 358.6,604.5 359.8,597.9C361,591.4 362.2,584.8 363.4,578.3C364.6,571.7 365.8,565.1 367,558.6C368.1,552.3 369.3,546.1 370.5,539.9C371.8,533.3 373.1,526.8 374.5,520.3C375.9,513.8 377.4,507.3 379.1,500.8C380.7,494.4 382.4,487.9 384.2,481.5C386.1,475.1 387.9,468.7 389.9,462.3C391.9,455.9 393.9,449.6 395.9,443.2C398,436.9 400.1,430.6 402.3,424.3C404.5,418 406.7,411.7 409,405.4C411.2,399.5 413.5,393.6 415.8,387.7C418.3,381.5 420.9,375.4 423.6,369.3C426.3,363.2 429.1,357.1 432,351.1C434.9,345.1 437.9,339.1 441,333.3C444.1,327.4 447.4,321.5 450.9,315.9C454.4,310.2 458.2,304.7 462.1,299.3C466.1,294 470.3,288.8 474.7,283.8C479.2,278.9 484,274.2 489.5,270.4C494.6,266.8 500.3,263.9 506.2,261.7C512.4,259.4 518.9,257.8 525.5,257C532.1,256.2 538.8,256.2 545.5,256.2C552.1,256.2 558.8,256.2 565.5,256.2C572.1,256.2 578.8,256.2 585.5,256.2C592.1,256.2 598.8,256.2 605.5,256.2C612.1,256.2 618.8,256.2 625.5,256.2C632.2,256.2 638.8,256.2 645.5,256.2C651.8,256.2 658.2,256.2 664.5,256.2C671.2,256.2 677.8,256.2 684.5,256.2C691.2,256.2 697.8,256.2 704.5,256.2C711.2,256.2 717.8,256.2 724.5,256.2C731.2,256.2 737.8,256.2 744.5,256.2C751.2,256.2 757.8,256.2 764.5,256.2C771.2,256.2 777.9,256.2 784.5,256.2C791.2,256.2 797.9,256.2 804.5,256.2C810.9,256.2 817.2,256.2 823.5,256.2C830.2,256.2 836.9,256.2 843.5,256.2C850.2,256.2 856.9,256.1 863.5,256.1C870.2,256.1 876.9,256.1 883.5,256.1C890.2,256.1 896.9,256.3 903.5,256.5C910.2,256.7 916.9,257 923.5,257.5C930.2,257.9 936.8,258.5 943.4,259.3C950.1,260.1 956.7,261 963.2,262.1C969.5,263.2 975.7,264.5 981.9,265.8C988.4,267.2 994.9,268.7 1001.4,270.3C1007.9,271.8 1014.3,273.4 1020.8,275C1027.3,276.6 1033.7,278.3 1040.2,280C1046.6,281.7 1053.1,283.4 1059.5,285.2C1065.9,287 1072.3,288.9 1078.7,290.8C1085.1,292.8 1091.4,294.8 1097.8,296.8C1104.1,298.8 1110.5,300.9 1116.8,303.1C1122.8,305.1 1128.8,307.2 1134.7,309.4C1141,311.6 1147.3,313.9 1153.5,316.3C1159.7,318.6 1165.9,321 1172.1,323.5C1178.3,325.9 1184.5,328.5 1190.7,331C1196.8,333.6 1203,336.2 1209.1,338.9C1215.2,341.6 1221.3,344.3 1227.4,347C1233.4,349.7 1239.5,352.5 1245.6,355.3C1251.6,358.1 1257.7,360.9 1263.7,363.8C1269.4,366.5 1275.1,369.2 1280.8,372C1286.8,374.9 1292.8,377.9 1298.7,381C1304.6,384.1 1310.4,387.4 1316.1,390.7C1321.9,394.1 1327.7,397.4 1333.5,400.7C1339.3,403.9 1345.2,407.2 1351,410.4C1356.8,413.7 1362.6,417 1368.4,420.3C1374.1,423.7 1379.9,427 1385.6,430.5C1391.2,434 1396.8,437.6 1402.4,441.4C1407.6,444.9 1412.8,448.6 1417.9,452.3C1423.4,456.1 1428.8,460 1434.2,463.9C1439.6,467.8 1445.1,471.6 1450.5,475.5C1456,479.3 1461.4,483.2 1466.9,487C1472.3,490.8 1477.8,494.7 1483.3,498.5" stroke="#000000"/>
<polygon points="1483.3,498.5 1473.9,482.9 1476.5,493.7 1465.4,495" fill="#000000" stroke="#000000"/>
<path d="M298,1110.8C300.3,1104.5 302.5,1098.2 304.2,1091.7C305.8,1085.3 307.1,1078.8 308.4,1072.2C309.7,1065.7 310.9,1059.1 312,1052.5C313.1,1046.3 314.2,1040.1 315.3,1033.8C316.5,1027.3 317.6,1020.7 318.8,1014.1C320,1007.6 321.2,1001 322.4,994.5C323.7,987.9 324.9,981.4 326.1,974.8C327.3,968.2 328.5,961.7 329.7,955.1C330.9,948.6 332.2,942 333.4,935.5C334.7,928.9 335.9,922.4 337.3,915.8C338.5,909.6 339.9,903.4 341.3,897.3C342.7,890.8 344.3,884.3 346,877.8C347.7,871.4 349.5,865 351.3,858.6C353.2,852.2 355.1,845.8 357.2,839.4C359.2,833.1 361.2,826.7 363.3,820.4C365.4,814.1 367.5,807.7 369.6,801.4C371.7,795.1 373.7,788.7 375.9,782.4C377.9,776.4 380,770.4 382.1,764.5C384.4,758.2 386.6,751.9 388.7,745.6C390.9,739.3 393,733 395.1,726.6C397.2,720.3 399.2,713.9 401.3,707.6C403.3,701.2 405.3,694.9 407.3,688.5C409.3,682.2 411.3,675.8 413.2,669.4C415.1,663.4 416.9,657.3 418.7,651.2C420.6,644.8 422.4,638.4 424.1,632C425.8,625.5 427.4,619 429,612.6C430.6,606.1 432.1,599.6 433.7,593.1C435.4,586.7 437,580.2 438.9,573.8C440.7,567.4 442.6,561 444.8,554.7C447,548.4 449.4,542.2 451.8,536C454.1,530.1 456.5,524.2 459.1,518.4C461.7,512.3 464.6,506.3 467.6,500.4C470.7,494.4 474,488.6 477.6,483C481.2,477.4 485,472 489.2,466.8C493.3,461.5 497.7,456.5 502.3,451.6C506.8,446.8 511.5,442 516.3,437.4C521.1,432.8 526,428.3 531,423.9C535.8,419.7 540.6,415.6 545.4,411.5C550.6,407.3 555.8,403.1 561.1,399.1C566.4,395.1 572,391.4 577.7,388C583.5,384.6 589.4,381.5 595.1,378.1C600.9,374.7 606.4,371.1 611.8,367.1C617.1,363.1 622.3,358.9 627.4,354.6C632.5,350.3 637.5,345.9 642.6,341.6C647.4,337.5 652.2,333.4 657.2,329.5C662.5,325.4 667.8,321.4 673.3,317.7C678.9,313.9 684.6,310.5 690.8,308C696.9,305.6 703.4,303.9 710,303.1C716.6,302.3 723.3,302.4 729.9,303C736.5,303.6 743.1,304.6 749.7,306C756.2,307.3 762.7,308.8 769.1,310.6C775.2,312.3 781.3,314.2 787.2,316.3C793.5,318.6 799.7,321.1 805.8,323.7C811.9,326.3 818,329.1 824,331.9C830.1,334.8 836.1,337.7 842.1,340.6C848,343.6 854,346.5 860,349.5C865.9,352.5 871.8,355.6 877.7,358.7C883.6,361.8 889.5,365 895.3,368.2C900.9,371.2 906.4,374.3 911.9,377.4C917.8,380.7 923.5,384 929.3,387.3C935.1,390.7 940.9,394 946.6,397.4C952.4,400.8 958.1,404.2 963.7,407.7C969.4,411.2 975,414.8 980.7,418.4C986.3,422 991.9,425.6 997.5,429.2C1002.8,432.6 1008.2,436 1013.6,439.3C1019.2,442.9 1024.9,446.3 1030.7,449.7C1036.4,453.1 1042.2,456.4 1048,459.7C1053.8,463 1059.6,466.2 1065.5,469.4C1071.3,472.7 1077.1,475.9 1082.9,479.2C1088.7,482.5 1094.5,485.8 1100.2,489.3C1105.9,492.7 1111.5,496.3 1116.9,500.3C1122,504 1126.8,508.1 1131.4,512.4C1136.3,517 1141.1,521.6 1145.9,526.3C1150.7,530.9 1155.4,535.6 1160,540.4C1164.7,545.2 1169.2,550.1 1173.7,555C1178.1,560 1182.5,565.1 1186.7,570.2C1191,575.3 1195.1,580.6 1199.1,585.9C1203.1,591.2 1207.1,596.6 1211,602C1214.7,607.1 1218.3,612.3 1221.9,617.6C1225.6,623.1 1229.3,628.6 1233.1,634.1C1236.9,639.6 1240.8,645 1244.6,650.4C1248.5,655.9 1252.4,661.3 1256.3,666.7" stroke="#000000"/>
<polygon points="1256.3,666.7 1252.6,648.9 1251.5,660 1240.6,657.5" fill="#000000" stroke="#000000"/>
<path d="M987.7,970.8C981.2,972.1 974.7,973.5 968.2,974.9C962,976.2 955.8,977.5 949.6,978.8C943.1,980.1 936.5,981.5 930,982.9C923.5,984.2 917,985.6 910.4,986.9C903.9,988.3 897.4,989.7 890.9,991C884.7,992.3 878.5,993.6 872.3,994.9C865.7,996.3 859.2,997.7 852.7,999C846.2,1000.4 839.7,1001.8 833.1,1003.2C826.6,1004.6 820.1,1006 813.6,1007.4C807.4,1008.7 801.2,1010 795,1011.4C788.5,1012.8 782,1014.2 775.5,1015.7C769,1017.1 762.5,1018.5 756,1020C749.4,1021.5 742.9,1022.9 736.4,1024.4C730.3,1025.8 724.1,1027.2 717.9,1028.6C711.4,1030.1 704.9,1031.6 698.4,1033.1C691.9,1034.6 685.4,1036.1 678.9,1037.6C672.4,1039.1 666,1040.6 659.5,1042.1C653.3,1043.5 647.1,1045 641,1046.4C634.5,1047.9 628,1049.5 621.5,1051C615,1052.5 608.5,1054 602,1055.6C595.9,1057 589.7,1058.5 583.5,1060C577.1,1061.5 570.6,1063 564.1,1064.6C557.6,1066.1 551.1,1067.6 544.6,1069.2C538.1,1070.7 531.7,1072.3 525.2,1073.8C519,1075.3 512.9,1076.7 506.7,1078.2C500.2,1079.8 493.7,1081.3 487.2,1082.9C480.8,1084.4 474.3,1086 467.8,1087.6C461.3,1089.1 454.9,1090.7 448.4,1092.3C442.2,1093.8 436.1,1095.3 429.9,1096.8C423.4,1098.4 417,1099.9 410.5,1101.5C404,1103.1 397.5,1104.7 391.1,1106.3C384.6,1107.9 378.1,1109.4 371.6,1111C365.5,1112.5 359.3,1114 353.2,1115.5C346.7,1117.1 340.2,1118.7 333.7,1120.3" stroke="#000000"/>
<polygon points="333.7,1120.3 351.6,1123.5 341.8,1118.3 348.1,1109.1" fill="#000000" stroke="#000000"/>
<path d="M333.8,1130.2C340.3,1128.9 346.8,1127.5 353.3,1126.2C359.5,1124.9 365.7,1123.6 371.9,1122.3C378.5,1121 385,1119.6 391.5,1118.3C398.1,1116.9 404.6,1115.6 411.1,1114.2C417.6,1112.9 424.2,1111.5 430.7,1110.2C436.9,1108.9 443.1,1107.6 449.3,1106.3C455.8,1104.9 462.4,1103.6 468.9,1102.2C475.4,1100.8 481.9,1099.4 488.4,1098C495,1096.6 501.5,1095.2 508,1093.8C514.2,1092.4 520.3,1091 526.5,1089.7C533,1088.2 539.5,1086.8 546,1085.3C552.6,1083.8 559.1,1082.4 565.6,1080.9C572.1,1079.4 578.6,1077.9 585.1,1076.4C591.2,1075 597.4,1073.6 603.6,1072.2C610.1,1070.7 616.6,1069.2 623.1,1067.7C629.6,1066.1 636,1064.6 642.5,1063.1C649,1061.6 655.5,1060.1 662,1058.6C668.2,1057.1 674.3,1055.7 680.5,1054.2C687,1052.7 693.5,1051.2 700,1049.6C706.5,1048.1 713,1046.6 719.4,1045C725.6,1043.6 731.8,1042.1 737.9,1040.7C744.4,1039.1 750.9,1037.6 757.4,1036C763.9,1034.5 770.4,1033 776.9,1031.4C783.3,1029.9 789.8,1028.3 796.3,1026.8C802.5,1025.3 808.6,1023.8 814.8,1022.3C821.3,1020.8 827.7,1019.2 834.2,1017.6C840.7,1016.1 847.2,1014.5 853.7,1012.9C860.1,1011.3 866.6,1009.8 873.1,1008.2C879.3,1006.7 885.4,1005.2 891.6,1003.7C898,1002.1 904.5,1000.5 911,998.9C917.5,997.4 923.9,995.8 930.4,994.2C936.9,992.6 943.4,991 949.9,989.5C956,988 962.2,986.5 968.3,985C974.8,983.4 981.3,981.8 987.7,980.2" stroke="#000000"/>
<polygon points="987.7,980.2 969.9,977 979.7,982.2 973.4,991.4" fill="#000000" stroke="#000000"/>
<path d="M1507.3,992C1505.3,998.4 1503.3,1004.7 1501.4,1011.1C1499.6,1017.2 1497.9,1023.3 1496,1029.3C1494,1035.7 1491.6,1041.9 1488.8,1048C1486.1,1054 1483,1059.9 1479.4,1065.6C1475.9,1071.2 1472,1076.6 1467.7,1081.7C1463.7,1086.6 1459.4,1091.3 1454.9,1095.7C1450.2,1100.4 1445.2,1104.9 1440.2,1109.3C1435.3,1113.7 1430.2,1118.1 1425.1,1122.4C1420,1126.7 1414.8,1130.8 1409.5,1134.9C1404.5,1138.8 1399.4,1142.5 1394.3,1146.3C1388.9,1150.2 1383.5,1154.1 1378,1157.9C1372.5,1161.7 1367,1165.4 1361.5,1169.2C1356.2,1172.7 1351,1176.2 1345.6,1179.5C1339.9,1183.1 1334.1,1186.3 1328.1,1189.2C1322.1,1192.1 1315.9,1194.6 1309.7,1196.8C1303.4,1199 1297,1200.9 1290.5,1202.6C1284.4,1204.2 1278.2,1205.6 1272,1207C1265.5,1208.4 1259,1209.6 1252.4,1210.7C1245.8,1211.8 1239.2,1212.7 1232.6,1213.4C1226.3,1214.1 1220,1214.7 1213.7,1215.2C1207,1215.7 1200.4,1216 1193.7,1216.2C1187,1216.5 1180.4,1216.5 1173.7,1216.5C1167,1216.4 1160.4,1216.3 1153.7,1216.1C1147.4,1215.9 1141.1,1215.6 1134.7,1215.3C1128.1,1214.9 1121.4,1214.5 1114.8,1214C1108.1,1213.6 1101.5,1213.1 1094.8,1212.5C1088.2,1212 1081.5,1211.5 1074.9,1210.9C1068.6,1210.3 1062.3,1209.7 1056,1209.1C1049.4,1208.4 1042.7,1207.7 1036.1,1207C1029.5,1206.3 1022.8,1205.6 1016.2,1204.8C1009.9,1204.2 1003.6,1203.5 997.3,1202.9C990.7,1202.2 984,1201.7 977.4,1201.1C970.8,1200.6 964.1,1200.2 957.5,1199.8C950.8,1199.4 944.1,1199 937.5,1198.7C931.2,1198.4 924.8,1198.1 918.5,1197.9C911.8,1197.6 905.2,1197.4 898.5,1197.3C891.9,1197.2 885.2,1197.2 878.5,1197.2C872.2,1197.3 865.9,1197.2 859.5,1197.2C852.9,1197.2 846.2,1197.3 839.5,1197.2C832.9,1197.2 826.2,1197.2 819.5,1197.2C812.9,1197.2 806.2,1197.2 799.5,1197.2C793.2,1197.3 786.9,1197.2 780.5,1197.2C773.9,1197.3 767.2,1197.2 760.5,1197.2C753.9,1197.3 747.2,1197.3 740.5,1197.2C733.9,1197.2 727.2,1197.2 720.5,1197.2C714.2,1197.2 707.9,1197.2 701.5,1197.2C694.9,1197.2 688.2,1197.2 681.5,1197.2C674.9,1197.3 668.2,1197.2 661.5,1197.2C655.2,1197.2 648.9,1197.2 642.5,1197.2C635.9,1197.3 629.2,1197.2 622.5,1197.2C615.9,1197.2 609.2,1197.2 602.5,1197.2C595.9,1197.2 589.2,1197.2 582.5,1197.2C576.2,1197.2 569.9,1197.2 563.5,1197.3C556.9,1197.3 550.2,1197.3 543.5,1197.3C536.9,1197.3 530.2,1197.2 523.6,1196.9C517.2,1196.6 510.9,1196.1 504.6,1195.3C498,1194.5 491.5,1193.4 484.9,1192C478.4,1190.6 471.9,1189.1 465.5,1187.4C459,1185.8 452.6,1184.1 446.1,1182.3C440,1180.7 433.9,1178.9 427.8,1177.2C421.4,1175.4 415,1173.5 408.6,1171.6C402.3,1169.7 395.9,1167.7 389.5,1165.7C383.2,1163.6 376.9,1161.5 370.6,1159.3C364.6,1157.2 358.6,1155.1 352.6,1153.1C346.4,1150.9 340.1,1148.7 333.7,1146.5" stroke="#000000"/>
<polygon points="333.7,1146.5 347,1158.9 341.6,1149.2 351.9,1144.9" fill="#000000" stroke="#000000"/>
<path d="M327.5,1158.5C333.5,1161.4 339.5,1164.2 345.5,1167.1C351.5,1170 357.5,1173 363.5,1175.9C369.5,1178.7 375.6,1181.6 381.7,1184.3C387.8,1187 393.9,1189.6 400.1,1192C406.3,1194.4 412.6,1196.7 418.9,1198.9C425.2,1201.1 431.5,1203.2 437.9,1205.1C444.3,1207 450.7,1208.7 457.2,1210.3C463.7,1211.8 470.2,1213.1 476.8,1214.2C483.4,1215.4 490,1216.4 496.6,1217.3C503.2,1218.2 509.8,1219 516.4,1219.7C523,1220.4 529.7,1220.9 536.3,1221C542.7,1221.1 549,1221 555.3,1221C562,1221 568.7,1221 575.3,1221C582,1221 588.7,1221 595.3,1221C602,1221 608.7,1221 615.3,1221C622,1221 628.7,1221 635.3,1221C642,1221 648.7,1221 655.3,1221C662,1221 668.7,1221 675.3,1221C682,1221 688.7,1221 695.3,1221C702,1221 708.7,1221 715.3,1221C722,1221 728.7,1221 735.3,1221C742,1221 748.7,1221 755.3,1221C762,1221 768.7,1221 775.3,1221C782,1221 788.7,1221.1 795.3,1221.1C802,1221.1 808.7,1221.1 815.3,1221.2C822,1221.2 828.7,1221.2 835.3,1221.2C842,1221.3 848.7,1221.3 855.3,1221.3C862,1221.3 868.7,1221.4 875.3,1221.4C882,1221.4 888.7,1221.4 895.3,1221.5C902,1221.6 908.6,1221.8 915.3,1222.1C922,1222.5 928.6,1222.8 935.3,1223.2C941.9,1223.6 948.6,1224 955.2,1224.5C961.5,1224.9 967.9,1225.4 974.2,1225.9C980.8,1226.4 987.5,1227 994.1,1227.6C1000.7,1228.3 1007.4,1229 1014,1229.7C1020.6,1230.4 1027.2,1231.1 1033.9,1231.9C1040.5,1232.6 1047.1,1233.3 1053.8,1233.9C1060.4,1234.6 1067,1235.2 1073.7,1235.8C1080.3,1236.3 1087,1236.9 1093.6,1237.3C1100.3,1237.8 1106.9,1238.3 1113.6,1238.7C1120.2,1239.1 1126.9,1239.5 1133.5,1239.8C1140.2,1240.1 1146.8,1240.4 1153.5,1240.6C1160.2,1240.7 1166.8,1240.9 1173.5,1240.9C1180.2,1241 1186.8,1240.9 1193.5,1240.7C1200.2,1240.5 1206.8,1240.2 1213.5,1239.8C1220.1,1239.4 1226.8,1238.9 1233.4,1238.2C1240,1237.5 1246.6,1236.7 1253.2,1235.5C1259.8,1234.4 1266.3,1233 1272.8,1231.4C1279.2,1229.8 1285.7,1228 1292,1225.9C1298.3,1223.8 1304.6,1221.5 1310.8,1219C1316.9,1216.5 1323,1213.9 1329.1,1211.1C1335.2,1208.4 1341.2,1205.5 1347.2,1202.5C1353.1,1199.5 1359,1196.4 1364.8,1193.1C1370.6,1189.8 1376.2,1186.2 1381.7,1182.5C1387.2,1178.7 1392.6,1174.8 1397.9,1170.7C1402.9,1166.8 1407.8,1162.8 1412.7,1158.8C1417.8,1154.5 1422.8,1150.1 1427.8,1145.7C1432.8,1141.3 1437.7,1136.8 1442.5,1132.2C1447.3,1127.6 1452,1122.8 1456.5,1117.9C1461,1113 1465.3,1107.8 1469.2,1102.5C1473.2,1097.1 1476.9,1091.6 1480.5,1085.9C1484,1080.3 1487.5,1074.6 1490.5,1068.7C1493.5,1062.7 1496.2,1056.6 1498.5,1050.4C1500.8,1044.1 1502.8,1037.8 1504.5,1031.3C1506.1,1024.9 1507.5,1018.3 1508.7,1011.8C1509.8,1005.2 1510.7,998.6 1511.7,992" stroke="#000000"/>
<polygon points="1511.7,992 1501.9,1007.3 1510.5,1000.2 1516.6,1009.5" fill="#000000" stroke="#000000"/>
<path d="M541,724C541.5,717.3 542,710.7 542.5,704C543,697.7 543.4,691.4 543.9,685.1C544.5,678.4 545,671.8 545.6,665.1C546.1,658.8 546.6,652.5 547.2,646.2C547.8,639.5 548.6,632.9 549.5,626.3C550.4,619.7 551.5,613.1 552.8,606.5C554,600.3 555.3,594.1 556.6,587.9C558,581.4 559.4,574.9 560.7,568.3C561.9,562.1 563.1,555.9 564.3,549.6C565.6,543.1 566.9,536.5 568.3,530C569.7,523.5 571.1,517 572.6,510.4C574,504.3 575.4,498.1 576.9,491.9C578.5,485.5 580.3,479 582.4,472.7C584.4,466.7 586.7,460.8 589.7,455.2C592.8,449.3 596.9,444.1 601.3,439C607.8,437.6 614.3,436.1 620.8,434.7C626.9,433.3 633.1,431.9 639.3,430.6C645.8,429.1 652.3,427.7 658.8,426.2C665,424.9 671.2,423.5 677.4,422.1C683.9,420.7 690.4,419.2 696.9,417.8C703,416.4 709.2,415 715.4,413.7C721.9,412.2 728.4,410.8 734.9,409.3C741.4,407.9 747.9,406.5 754.4,405C760.6,403.7 766.8,402.3 773,400.9C779.5,399.5 786,398.1 792.5,396.7C798.7,395.3 804.9,394 811.1,392.6C817.6,391.2 824.1,389.7 830.6,388.3C836.8,386.9 842.9,385.5 849.1,384.2C855.6,382.7 862.1,381.3 868.6,379.9C875.2,378.4 881.7,377 888.2,375.6C894.4,374.3 900.5,372.9 906.7,371.6C913.3,370.2 919.8,368.9 926.3,367.5C932.5,366.2 938.7,365 944.9,363.7C951.4,362.4 958,361.1 964.5,359.9C971.1,358.6 977.6,357.4 984.2,356.2C990.4,355 996.6,353.9 1002.8,352.7C1009.4,351.6 1016,350.4 1022.5,349.2C1028.8,348.1 1035,347 1041.2,345.9C1047.8,344.8 1054.4,343.7 1060.9,342.5C1067.2,341.4 1073.4,340.3 1079.6,339.2C1086.2,338.1 1092.7,336.9 1099.3,335.7C1105.9,335.1 1112.6,334.5 1119.2,333.9C1125.5,333.3 1131.9,332.8 1138.2,332.3C1144.8,331.8 1151.5,331.4 1158.2,331.1C1164.5,330.9 1170.8,330.7 1177.2,330.6C1183.8,330.4 1190.5,330.4 1197.2,330.5C1203.8,330.5 1210.5,330.7 1217.2,330.8C1223.5,330.9 1229.9,331.1 1236.2,331.3C1242.9,331.5 1249.5,331.8 1256.2,332.2C1262.5,332.5 1268.8,332.9 1275.1,333.4C1281.8,334 1288.4,334.6 1295.1,335.4C1301.7,336.2 1308.3,337.2 1314.9,338.3C1321.1,339.3 1327.3,340.5 1333.6,341.7C1340.1,343 1346.6,344.4 1353.2,345.8C1359.4,347.1 1365.6,348.4 1371.7,349.8C1378.2,351.3 1384.7,352.9 1391.2,354.5C1397.7,356.1 1404.1,357.8 1410.6,359.5C1416.7,361.1 1422.8,362.7 1429,364.3C1435.4,366 1441.9,367.7 1448.3,369.3C1454.5,370.8 1460.7,372.3 1466.8,373.7C1473.4,375.1 1479.9,376.4 1486.5,377.6C1493,378.9 1499.6,380 1506.2,381.2C1512.4,382.3 1518.6,383.4 1524.9,384.6C1531.4,385.9 1537.9,387.3 1544.5,388.6C1551,389.9 1557.6,391.2 1564.1,392.4C1570.4,393.5 1576.6,394.5 1582.9,395.2C1589.5,395.8 1596.2,396 1602.9,396C1609.2,396 1615.6,396 1621.9,396.4C1628.5,396.7 1635.2,397.4 1641.6,399C1648.1,400.6 1654.1,403.5 1659.7,407C1665.1,410.3 1670.3,414 1674.9,418.3C1679.8,422.8 1683.9,428.1 1687.4,433.8C1690.6,439.2 1693.2,445 1695.5,450.9C1697.9,457.1 1700.1,463.4 1702.2,469.8C1704.3,476.1 1706.3,482.4 1708.4,488.8C1710.3,494.8 1712.2,500.9 1714.1,506.9C1716.1,513.3 1718.1,519.6 1720,526C1721.8,532.1 1723.4,538.2 1725,544.4C1726.6,550.8 1728.2,557.3 1729.8,563.8" stroke="#000000"/>
<polygon points="1729.8,563.8 1733,545.9 1727.8,555.7 1718.6,549.5" fill="#000000" stroke="#000000"/>
<path d="M1716.7,563.8C1712.2,558.8 1707.8,553.9 1703.1,549.1C1698.4,544.4 1693.4,540 1688.3,535.7C1683.2,531.5 1677.9,527.4 1672.5,523.5C1667,519.7 1661.4,516.1 1655.6,512.8C1649.8,509.6 1643.8,506.6 1637.7,504C1631.6,501.3 1625.3,499 1618.9,497.1C1612.6,495.2 1606,493.8 1599.5,492.5C1593,491.2 1586.4,490.1 1579.8,489C1573.2,488 1566.6,487 1560,486C1553.4,485.1 1546.8,484.1 1540.2,483.1C1533.6,482.2 1527,481.2 1520.5,480.2C1513.9,479.3 1507.3,478.2 1500.7,477.2C1494.1,476.1 1487.5,475 1481,473.8C1474.4,472.6 1467.9,471.5 1461.3,470.2C1454.7,469 1448.2,467.8 1441.7,466.5C1435.1,465.3 1428.6,464 1422,462.7C1415.5,461.5 1408.9,460.2 1402.4,459C1395.8,457.7 1389.3,456.5 1382.7,455.2C1376.2,454 1369.6,452.7 1363.1,451.4C1356.6,450.1 1350,448.7 1343.5,447.5C1336.9,446.2 1330.4,444.9 1323.8,443.7C1317.3,442.5 1310.7,441.3 1304.2,440.2C1297.6,439.1 1291,438.1 1284.4,437.2C1277.8,436.2 1271.2,435.4 1264.6,434.6C1257.9,433.8 1251.3,433 1244.7,432.3C1238.1,431.6 1231.4,430.9 1224.8,430.3C1218.1,429.7 1211.5,429.1 1204.9,428.6C1198.2,428 1191.6,427.5 1184.9,426.9C1178.3,426.4 1171.6,425.8 1165,425.3C1158.3,424.8 1151.7,424.3 1145,423.9C1138.4,423.4 1131.7,423.1 1125.1,422.7C1118.4,422.4 1111.8,422.2 1105.1,422.1C1098.4,422 1091.8,422 1085.1,422.1C1078.4,422.2 1071.8,422.5 1065.1,422.9C1058.5,423.2 1051.8,423.7 1045.2,424.3C1038.5,424.9 1031.9,425.6 1025.3,426.3C1018.7,427.1 1012,428 1005.4,428.9C998.8,429.8 992.2,430.8 985.7,431.9C979.1,433 972.5,434.2 966,435.4C959.4,436.7 952.9,438 946.4,439.4C939.9,440.7 933.3,442.2 926.8,443.6C920.3,445.1 913.8,446.5 907.3,448C900.8,449.5 894.3,451.1 887.9,452.6C881.4,454.1 874.9,455.7 868.4,457.3C861.9,458.9 855.5,460.5 849,462.2C842.6,463.8 836.1,465.5 829.7,467.2C823.2,469 816.8,470.7 810.4,472.5C804,474.3 797.5,476.1 791.1,478C784.7,479.9 778.4,481.8 772,483.8C765.6,485.7 759.3,487.7 752.9,489.8C746.6,491.9 740.3,494 734,496.1C727.6,498.3 721.4,500.5 715.1,502.8C708.8,505.1 702.6,507.4 696.4,509.9C690.2,512.3 684.1,514.9 677.9,517.5C671.8,520.1 665.6,522.7 659.6,525.6C653.6,528.4 647.7,531.5 642,535C636.4,538.6 631,542.5 625.9,546.8C620.9,551.1 616.1,555.8 611.5,560.6C606.9,565.5 602.6,570.6 598.5,575.8C594.5,581.1 590.6,586.6 587.1,592.2C583.5,597.9 580.3,603.7 577.4,609.7C574.5,615.7 571.9,621.8 569.6,628.1C567.3,634.3 565.3,640.7 563.5,647.1C561.6,653.5 559.9,659.9 558.2,666.4C556.5,672.8 554.9,679.3 553.1,685.7C551.4,692.2 549.5,698.6 547.5,704.9C545.6,711.3 543.5,717.6 541.5,724" stroke="#000000"/>
<polygon points="541.5,724 553.6,710.4 544,716.1 539.5,705.9" fill="#000000" stroke="#000000"/>
<path d="M545.5,724C548.4,718 551.2,712 554,705.9C556.7,700.2 559.3,694.4 562,688.7C564.8,682.6 567.7,676.6 570.8,670.7C573.9,664.8 577.1,659 580.7,653.3C584.1,648 587.7,642.8 591.4,637.7C595.4,632.3 599.4,627 603.3,621.6C607.3,616.3 611.2,610.8 615.2,605.6C619.3,600.3 623.6,595.2 627.8,590C631.9,585.2 636,580.4 640.3,575.7C644.8,570.7 649.4,565.9 654.3,561.5C659.3,557 664.6,553 670,549.2C675.3,545.6 680.6,542.2 686.2,539.2C692,536 698.1,533.2 704.3,530.9C710.6,528.6 716.9,526.6 723.4,525C729.6,523.5 735.8,522.3 742,521.3C748.6,520.2 755.2,519.3 761.8,518.6C768.4,517.8 775.1,517.1 781.7,516.5C788,515.9 794.3,515.3 800.6,514.7C807.3,514.2 813.9,513.6 820.6,513.2C827.2,512.7 833.9,512.2 840.5,511.8C847.2,511.4 853.8,511 860.5,510.6C866.8,510.2 873.1,509.9 879.4,509.5C886.1,509.1 892.8,508.8 899.4,508.4C906.1,508.1 912.7,507.7 919.4,507.4C925.7,507 932,506.7 938.3,506.3C945,506 951.7,505.7 958.3,505.3C965,505 971.6,504.6 978.3,504.3C984.6,504 990.9,503.7 997.3,503.4C1003.9,503.1 1010.6,502.8 1017.2,502.5C1023.9,502.2 1030.6,501.9 1037.2,501.7C1043.6,501.4 1049.9,501.2 1056.2,500.9C1062.9,500.7 1069.5,500.4 1076.2,500.2C1082.9,500 1089.5,499.8 1096.2,499.6C1102.8,499.5 1109.5,499.3 1116.2,499.1C1122.5,499 1128.8,498.9 1135.2,498.8C1141.8,498.6 1148.5,498.5 1155.2,498.4C1161.8,498.3 1168.5,498.2 1175.2,498.2C1181.5,498.1 1187.8,498 1194.2,498C1200.8,497.9 1207.5,497.8 1214.2,497.8C1220.8,497.8 1227.5,497.7 1234.1,497.7C1240.5,497.7 1246.8,497.7 1253.1,497.6C1259.8,497.6 1266.5,497.6 1273.1,497.7C1279.8,497.7 1286.5,497.7 1293.1,497.8C1299.5,497.8 1305.8,497.8 1312.1,497.9C1318.8,497.9 1325.5,498 1332.1,498.1C1338.8,498.2 1345.5,498.4 1352.1,498.7C1358.8,499 1365.4,499.4 1372.1,499.9C1378.4,500.5 1384.7,501.1 1391,501.8C1397.6,502.6 1404.2,503.4 1410.8,504.3C1417.4,505.2 1424,506.2 1430.6,507.2C1436.9,508.2 1443.1,509.2 1449.3,510.4C1455.9,511.6 1462.4,512.8 1469,514" stroke="#000000"/>
<polygon points="1469,514 1454,503.7 1460.8,512.5 1451.3,518.3" fill="#000000" stroke="#000000"/>
<path d="M496,737.1C490.3,733.7 484.4,730.6 478.5,727.4C472.7,724.2 467,720.6 462.2,716C457.4,711.4 453,706.3 449.7,700.5C446.6,695 445.4,688.4 447.8,682.6C450.4,676.5 455,671.4 460.2,667.2C465.4,663.1 471.7,660.5 478,658.6C484.4,656.7 491,655.4 497.5,654.2C504.1,653 510.7,652 517.3,651.5C523.6,651.1 529.9,651.2 536.3,651.4C542.9,651.6 549.6,651.9 556.2,652.6C562.8,653.2 569.5,654.1 576,655.5C582.5,657 588.9,658.7 595.2,660.8C601.5,662.9 607.9,665.3 613.3,669.1C618.8,672.8 623.5,678.1 625.4,684.4C627.3,690.7 625.8,697.6 623.1,703.7C620.6,709.5 616.5,714.5 611.4,718.3C606.1,722.2 600.3,725.6 594.3,728.4C588.3,731.2 582,733.5 575.8,736" stroke="#000000"/>
<polygon points="575.8,736 594,736.7 583.5,732.9 588.4,722.9" fill="#000000" stroke="#000000"/>
<path d="M496,735.5C490,732.6 483.8,730.2 477.8,727.3C471.8,724.4 466.2,720.6 461.4,716C456.7,711.7 451.6,706.1 453.3,700.3C455.2,694.3 461.5,690 467.5,687.2C473.6,684.4 480.1,682.8 486.6,681.2C493.1,679.7 499.6,678.4 506.2,677.4C512.8,676.5 519.4,675.8 526.1,675.5C532.4,675.2 538.8,675.3 545.1,675.6C551.8,676 558.4,676.7 565,677.8C571.6,678.9 578.1,680.4 584.5,682.2C590.9,684.1 597.2,686.2 603.2,689.1C609.3,692 615.8,695.6 618.3,701.5C620.6,707 615.8,713.1 611.2,717.4C606.4,722 600.3,724.9 594.3,727.8C588.3,730.7 582,733 575.8,735.5" stroke="#000000"/>
<polygon points="575.8,735.5 594,736.1 583.5,732.4 588.4,722.4" fill="#000000" stroke="#000000"/>
<path d="M530.6,724.1C530.2,718.4 529.4,712.7 530.5,707.2C531.6,701.6 537.9,701.7 539.3,707.2C540.7,712.6 540.4,718.4 540.7,724.1" stroke="#000000"/>
<polygon points="540.7,724.1 546.7,706.9 540,715.8 531.9,708.2" fill="#000000" stroke="#000000"/>
<path d="M568.4,724.1C573.8,720.8 579.1,717.4 584.5,714.1C590.2,710.6 596,707.4 602,704.5C607.7,701.8 613.5,699.3 619.4,697C625.6,694.5 631.8,692.2 638.1,690C644.1,688 650.1,686 656.1,684.1C662.1,682.3 668.2,680.6 674.3,678.9C680.8,677.2 687.2,675.6 693.7,673.9C699.8,672.3 705.9,670.7 712,669.1" stroke="#000000"/>
<polygon points="712,669.1 694.1,666.2 704,671.2 697.8,680.5" fill="#000000" stroke="#000000"/>
<path d="M1218.5,697.5C1211.9,698.3 1205.3,699.1 1198.6,699.9C1192.4,700.7 1186.1,701.4 1179.8,702.2C1173.2,703 1166.6,703.9 1160,704.7C1153.7,705.5 1147.4,706.2 1141.1,707C1134.5,707.8 1127.9,708.6 1121.2,709.4C1115,710.1 1108.7,710.9 1102.4,711.6C1095.8,712.3 1089.1,713.1 1082.5,713.8C1076.2,714.5 1069.9,715.1 1063.6,715.8C1057,716.5 1050.4,717.1 1043.7,717.8C1037.4,718.4 1031.1,719.1 1024.8,719.7C1018.2,720.3 1011.5,720.9 1004.9,721.5C998.3,722.2 991.6,722.8 985,723.4C978.7,723.9 972.4,724.5 966.1,725C959.4,725.6 952.8,726.1 946.1,726.7C939.8,727.2 933.5,727.7 927.2,728.2C920.6,728.7 913.9,729.2 907.3,729.6C901,730.1 894.6,730.5 888.3,730.9C881.7,731.4 875,731.8 868.4,732.2C862,732.6 855.7,733 849.4,733.4C842.8,733.8 836.1,734.2 829.4,734.5C823.1,734.9 816.8,735.3 810.5,735.6C803.8,736 797.2,736.3 790.5,736.7C783.9,737.1 777.2,737.4 770.5,737.8C764.2,738.1 757.9,738.5 751.6,738.8C744.9,739.1 738.3,739.4 731.6,739.8C725.3,740.1 719,740.4 712.6,740.7C706,741 699.3,741.3 692.7,741.6C686.3,741.9 680,742.2 673.7,742.4C667,742.7 660.4,743 653.7,743.3C647.4,743.6 641.1,743.9 634.7,744.2C628.1,744.5 621.4,744.8 614.8,745C608.4,745.3 602.1,745.6 595.8,745.8C589.1,746.1 582.5,746.4 575.8,746.7" stroke="#000000"/>
<polygon points="575.8,746.7 592.7,753.4 584.1,746.3 592.1,738.6" fill="#000000" stroke="#000000"/>
<path d="M1862.3,804C1855.6,803.8 1848.9,803.6 1842.3,803.4C1835.6,803.2 1828.9,803 1822.3,802.8C1816,802.6 1809.6,802.4 1803.3,802.2C1796.6,802 1790,801.8 1783.3,801.6C1776.6,801.4 1770,801.2 1763.3,801C1756.7,800.8 1750,800.6 1743.3,800.4C1736.7,800.2 1730,800 1723.4,799.8C1716.7,799.6 1710,799.4 1703.4,799.2C1697,799 1690.7,798.8 1684.4,798.6C1677.7,798.4 1671.1,798.2 1664.4,798C1657.7,797.8 1651.1,797.6 1644.4,797.4C1637.8,797.2 1631.1,797 1624.4,796.8C1617.8,796.6 1611.1,796.4 1604.4,796.2C1598.1,796 1591.8,795.9 1585.5,795.7C1578.8,795.5 1572.1,795.3 1565.5,795.1C1558.8,794.9 1552.2,794.7 1545.5,794.5C1538.8,794.3 1532.2,794.1 1525.5,793.9C1518.8,793.8 1512.2,793.6 1505.5,793.4C1499.2,793.2 1492.9,793 1486.5,792.8C1479.9,792.6 1473.2,792.5 1466.6,792.3C1459.9,792.1 1453.2,791.9 1446.6,791.7C1439.9,791.5 1433.2,791.3 1426.6,791.1C1419.9,790.9 1413.3,790.7 1406.6,790.6C1399.9,790.4 1393.3,790.2 1386.6,790C1380.3,789.8 1374,789.6 1367.6,789.4C1361,789.2 1354.3,789 1347.6,788.8C1341,788.6 1334.3,788.4 1327.7,788.2C1321,788 1314.3,787.7 1307.7,787.5C1301,787.3 1294.4,787.1 1287.7,786.9C1281.4,786.6 1275,786.4 1268.7,786.2C1262,786 1255.4,785.8 1248.7,785.5C1242.1,785.3 1235.4,785.1 1228.7,784.9C1222.1,784.6 1215.4,784.4 1208.8,784.2C1202.1,784 1195.4,783.7 1188.8,783.5C1182.1,783.3 1175.5,783 1168.8,782.8C1162.5,782.5 1156.1,782.3 1149.8,782.1C1143.2,781.8 1136.5,781.6 1129.8,781.3C1123.2,781.1 1116.5,780.8 1109.9,780.6C1103.2,780.3 1096.5,780 1089.9,779.8C1083.2,779.5 1076.6,779.2 1069.9,778.9C1063.6,778.7 1057.3,778.4 1050.9,778.1C1044.3,777.8 1037.6,777.5 1031,777.2C1024.3,776.9 1017.6,776.6 1011,776.3C1004.3,776 997.7,775.6 991,775.3C984.4,775 977.7,774.6 971,774.3C964.4,773.9 957.7,773.6 951.1,773.2C944.8,772.9 938.4,772.5 932.1,772.2C925.5,771.8 918.8,771.4 912.2,771.1C905.5,770.7 898.8,770.3 892.2,769.9C885.5,769.5 878.9,769.2 872.2,768.8C865.6,768.4 858.9,768 852.3,767.6C846,767.2 839.6,766.9 833.3,766.5C826.7,766.1 820,765.7 813.3,765.4C806.7,765 800,764.6 793.4,764.2C786.7,763.8 780.1,763.5 773.4,763.1C766.8,762.7 760.1,762.4 753.5,762C747.1,761.7 740.8,761.3 734.5,761C727.8,760.6 721.2,760.2 714.5,759.9C707.9,759.5 701.2,759.1 694.6,758.7C687.9,758.4 681.3,758 674.6,757.6C668,757.3 661.3,756.9 654.6,756.5C648,756.1 641.3,755.8 634.7,755.4C628.4,755 622,754.7 615.7,754.3C609.1,753.9 602.4,753.5 595.8,753.1C589.1,752.8 582.5,752.4 575.8,752" stroke="#000000"/>
<polygon points="575.8,752 591.9,760.3 584.1,752.5 592.8,745.6" fill="#000000" stroke="#000000"/>
<path d="M987.8,954.4C981.4,952.5 975,950.5 968.6,948.6C962.2,946.7 955.8,944.8 949.5,942.9C943.1,940.9 936.7,938.9 930.4,936.8C924.1,934.8 917.7,932.7 911.4,930.6C905.1,928.5 898.8,926.3 892.5,924.1C886.5,922 880.6,919.8 874.7,917.6C868.4,915.2 862.2,912.8 856.1,910.2C849.9,907.7 843.8,905 837.7,902.3C831.6,899.6 825.6,896.9 819.5,894.2C813.4,891.5 807.3,888.8 801.2,886.2C795,883.5 788.9,881 782.7,878.4C776.6,875.8 770.5,873.2 764.3,870.7C758.2,868.1 752,865.6 745.8,863C739.7,860.5 733.5,857.9 727.3,855.5C721.1,853 714.9,850.5 708.8,848C702.6,845.5 696.5,842.8 690.4,840.1C684.4,837.3 678.3,834.5 672.4,831.5C666.7,828.8 661,825.9 655.4,823C649.5,820 643.6,816.9 637.7,813.7C631.8,810.6 626,807.3 620.2,804C614.4,800.7 608.7,797.3 603,793.8C597.3,790.3 591.8,786.7 586.2,783C580.7,779.3 575.1,775.6 569.6,771.9" stroke="#000000"/>
<polygon points="569.6,771.9 579.3,787.3 576.5,776.5 587.5,775" fill="#000000" stroke="#000000"/>
<path d="M550.8,771.7C554.6,777.2 558.3,782.7 562.1,788.2C565.9,793.7 569.6,799.2 573.6,804.6C577.5,809.9 581.8,815.1 586.1,820.1C590.5,825.1 595.1,830 599.8,834.7C604.6,839.4 609.5,843.9 614.4,848.3C619.1,852.6 623.8,856.8 628.6,861.1C633.5,865.5 638.5,869.9 643.5,874.4C648.4,878.8 653.4,883.3 658.3,887.8C663.3,892.2 668.2,896.7 673.1,901.2C678,905.8 682.9,910.3 687.8,914.8C692.7,919.4 697.6,923.9 702.5,928.4C707.4,932.9 712.3,937.4 717.1,942C722,946.6 726.7,951.3 731.5,955.9C736.3,960.5 741.2,965.1 746.2,969.5C751.1,974 756.2,978.3 761.3,982.7C766.3,987 771.4,991.3 776.6,995.5C781.7,999.8 786.8,1004 792,1008.2C796.9,1012.3 801.8,1016.2 806.8,1020.2C812,1024.3 817.3,1028.4 822.6,1032.4C828,1036.3 833.4,1040.2 838.5,1044.5C843.7,1048.7 848.7,1053.2 853.9,1057.3C859,1061.5 864.5,1065.4 870.1,1069C875.7,1072.6 881.4,1076 887.2,1079.3C893,1082.6 898.8,1085.8 904.7,1088.9C910.7,1092 916.6,1095 922.6,1097.9C928.6,1100.8 934.6,1103.6 940.7,1106.3C946.8,1109 953,1111.6 959.2,1114C965.4,1116.4 971.7,1118.7 978,1121C983.9,1123.1 989.9,1125.2 995.9,1127.2C1002.2,1129.4 1008.5,1131.5 1014.8,1133.6C1021.2,1135.8 1027.5,1137.9 1033.8,1140.1C1040.1,1142.3 1046.3,1144.6 1052.6,1146.8C1058.9,1149 1065.2,1151.2 1071.6,1153.2C1077.9,1155.3 1084.3,1157.2 1090.7,1159.1C1097.1,1161 1103.5,1162.8 1109.9,1164.5C1116.4,1166.1 1122.9,1167.5 1129.5,1168.5C1136.1,1169.5 1142.7,1170.1 1149.4,1170.5C1156,1170.8 1162.7,1170.8 1169.4,1170.5C1176,1170.3 1182.7,1169.7 1189.3,1168.8C1195.6,1168 1201.8,1166.9 1208,1165.8C1214.6,1164.5 1221.1,1163.1 1227.6,1161.6C1234.1,1160.1 1240.6,1158.5 1247,1156.8C1253.4,1155 1259.8,1153.1 1266.1,1151C1272.4,1148.8 1278.6,1146.3 1284.7,1143.5C1290.8,1140.8 1296.7,1137.8 1302.6,1134.6C1308.4,1131.4 1314.1,1128 1319.9,1124.6C1325.6,1121.3 1331.3,1117.8 1337,1114.3C1342.7,1110.8 1348.3,1107.2 1353.9,1103.6C1359.5,1100 1365,1096.3 1370.5,1092.5C1376,1088.7 1381.5,1084.9 1386.9,1081C1392.3,1077.1 1397.7,1073.1 1403,1069.2C1408.1,1065.4 1413.1,1061.5 1418.1,1057.6C1423.4,1053.5 1428.6,1049.4 1433.8,1045.2C1439,1041 1444.1,1036.8 1449.3,1032.5C1454.4,1028.2 1459.4,1023.9 1464.4,1019.5C1469.4,1015 1474.3,1010.5 1479.1,1005.9C1483.9,1001.3 1488.7,996.6 1493.5,992" stroke="#000000"/>
<polygon points="1493.5,992 1476.4,998.2 1487.5,997.8 1486.7,1008.8" fill="#000000" stroke="#000000"/>
<path d="M712,646.4C707.2,642.3 702.1,638.5 697.5,634.1C693,629.7 688.5,624.5 687.3,618.5C686.1,612.8 689.7,607.1 694,603C698.7,598.7 704.7,596.2 710.7,594.3C716.7,592.3 722.9,590.8 729.2,590C735.1,589.3 741.1,589.1 747.1,589.1C753.5,589.2 759.8,589.4 766.1,590.2C772.4,591 778.6,592.4 784.5,594.6C790.5,596.7 796.4,599.3 801.2,603.4C806,607.5 810,613.6 808.3,619.5C806.6,625.1 802.5,630 798.2,634.1C793.6,638.5 788.5,642.3 783.7,646.4" stroke="#000000"/>
<polygon points="783.7,646.4 801.2,641.4 790.1,641.1 791.7,630.1" fill="#000000" stroke="#000000"/>
<path d="M738.2,637.3C738,631 737.4,624.3 740.3,618.8C743.3,613 752.6,612.8 755.4,618.7C758.1,624.2 757,631 757.1,637.3" stroke="#000000"/>
<polygon points="757.1,637.3 763.5,620.3 756.6,629 748.7,621.2" fill="#000000" stroke="#000000"/>
<path d="M784.3,654C790.8,653 797.4,652 804,650.9C810.6,649.9 817.1,648.8 823.7,647.8C830.3,646.9 836.9,646 843.6,645.3C850.2,644.6 856.8,644 863.5,643.5C870.1,642.9 876.7,642.5 883.4,642C889.7,641.6 896,641.2 902.3,640.9C909,640.6 915.7,640.3 922.3,640.1C929,639.8 935.6,639.6 942.3,639.5C948.9,639.4 955.6,639.3 962.3,639.4C968.9,639.4 975.6,639.5 982.2,639.7C988.9,639.9 995.6,640.3 1002.2,640.7C1008.9,641.1 1015.5,641.6 1022.1,642.2C1028.8,642.7 1035.4,643.4 1042,644.1C1048.6,644.8 1055.3,645.6 1061.9,646.4C1068.5,647.3 1075.1,648.1 1081.7,649.1C1088.3,650.1 1094.8,651.2 1101.4,652.4C1107.6,653.6 1113.8,654.8 1120,656C1126.6,657.3 1133.1,658.7 1139.6,659.9C1146.2,661.1 1152.7,662.3 1159.3,663.4C1165.9,664.5 1172.4,665.6 1179,666.6C1185.6,667.7 1192.2,668.7 1198.8,669.8C1205.3,670.8 1211.9,671.8 1218.5,672.9" stroke="#000000"/>
<polygon points="1218.5,672.9 1203.3,663 1210.3,671.6 1200.9,677.6" fill="#000000" stroke="#000000"/>
<path d="M784.3,667C790.1,668.1 796,669.2 801.9,670.3C807.8,671.4 813.6,672.5 819.5,673.6C825.4,674.8 831.3,675.9 837.1,677.2C843,678.4 848.8,679.7 854.7,680.9C860.2,682.1 865.7,683.3 871.2,684.5C877.1,685.8 882.9,687 888.8,688.2C894.7,689.4 900.5,690.6 906.4,691.8C912.2,693.1 918,694.4 923.9,695.8C929.7,697.3 935.4,699 941,701C945.2,706.2 949.5,711.2 953.4,716.6C957.3,722 960.7,727.8 963.5,733.8C966.2,739.5 968.5,745.4 970.6,751.4C972.8,757.7 975,764 977.3,770.2C979.6,776.5 982,782.7 984.2,789C986.4,795.3 988.3,801.7 990.2,808.1C991.9,814.2 993.5,820.3 995.1,826.4C996.7,832.9 998.3,839.3 999.9,845.8C1001.4,852.3 1002.8,858.8 1004.3,865.3C1005.7,871.8 1007,878.4 1008.3,884.9C1009.6,891.1 1010.9,897.3 1012.1,903.5C1013.4,910 1014.7,916.6 1016,923.1C1017.3,929.6 1018.7,936.2 1020,942.7" stroke="#000000"/>
<polygon points="1020,942.7 1023.9,925 1018.3,934.6 1009.4,927.9" fill="#000000" stroke="#000000"/>
<path d="M1001,942.8C1001.1,936.4 1002.3,930 1006.5,925.3C1010.8,920.7 1017.3,918.6 1023.5,918.8C1029.5,918.9 1035.6,921 1039.8,925.2C1044.2,929.6 1044.5,936.4 1045,942.7" stroke="#000000"/>
<polygon points="1045,942.7 1048.2,924.8 1043,934.6 1033.8,928.4" fill="#000000" stroke="#000000"/>
<path d="M1028.8,943C1029.7,936.4 1030.7,929.8 1031.7,923.2C1032.8,916.6 1033.9,910.1 1035.2,903.5C1036.4,897.3 1037.7,891.1 1039,884.9C1040.4,878.4 1041.7,871.9 1043.1,865.3C1044.5,858.8 1045.9,852.3 1047.5,845.8C1049.2,839.4 1051,833 1053.1,826.6C1055.1,820.3 1057.3,814 1059.7,807.8C1062.1,801.6 1064.7,795.4 1067.2,789.2C1069.6,783.4 1071.9,777.5 1074.2,771.6C1076.7,765.4 1079.1,759.2 1081.6,753C1084.1,746.8 1086.6,740.6 1089.3,734.5C1091.9,728.4 1094.6,722.3 1097.5,716.3C1100.3,710.3 1103.3,704.3 1106.4,698.4C1109.5,692.5 1112.8,686.7 1116.2,680.9C1119.3,675.5 1122.6,670.1 1126,664.7C1129.6,659.1 1133.3,653.5 1137.1,648.1C1140.9,642.6 1144.8,637.2 1148.9,631.9C1152.9,626.6 1157.2,621.5 1161.6,616.5C1166,611.4 1170.5,606.6 1175.2,601.8C1179.9,597.1 1184.6,592.4 1189.6,587.9C1194.2,583.6 1199,579.5 1204,575.6C1209.2,571.4 1214.6,567.5 1220.1,563.8C1225.7,560.1 1231.3,556.6 1237.1,553.3C1243,550 1248.9,547 1254.9,544.2C1261,541.4 1267.2,538.9 1273.4,536.6C1279.7,534.3 1286,532.3 1292.4,530.4C1298.5,528.7 1304.7,527.1 1310.8,525.8C1317.3,524.3 1323.9,523 1330.4,521.9C1337,520.7 1343.6,519.7 1350.2,518.8C1356.8,518 1363.4,517.3 1370.1,516.7C1376.7,516.2 1383.4,515.7 1390,515.4C1396.7,515.1 1403.4,514.8 1410,514.7C1416.4,514.5 1422.7,514.5 1429,514.5C1435.7,514.6 1442.4,514.8 1449,515.1C1455.7,515.3 1462.3,515.5 1469,515.8" stroke="#000000"/>
<polygon points="1469,515.8 1452.7,507.8 1460.7,515.5 1452.2,522.6" fill="#000000" stroke="#000000"/>
<path d="M1221.1,715C1216,718.7 1210.8,722.4 1205.7,726.1C1200.6,729.8 1195.5,733.5 1190.4,737.4C1185.7,741 1181,744.8 1176.4,748.6C1171.5,752.7 1166.8,756.8 1162,761C1157.3,765.2 1152.5,769.4 1147.9,773.7C1143.3,778 1138.7,782.4 1134.3,786.9C1129.8,791.4 1125.2,795.7 1120.6,800.1C1116.2,804.2 1111.9,808.4 1107.8,812.7C1103.4,817.2 1099.1,821.9 1095.1,826.8C1091.2,831.8 1087.6,837 1084.3,842.3C1080.9,847.7 1077.7,853.2 1074.5,858.7C1071.4,864.1 1068.4,869.7 1065.4,875.3C1062.5,880.9 1059.6,886.5 1056.7,892.2C1054,897.5 1051.3,902.8 1048.6,908.2C1045.8,913.9 1043.1,919.6 1040.5,925.4C1037.9,931.1 1035.3,936.9 1032.7,942.7" stroke="#000000"/>
<polygon points="1032.7,942.7 1046.3,930.6 1036.1,935.1 1032.8,924.5" fill="#000000" stroke="#000000"/>
<path d="M1042.5,943C1045.6,937.5 1048.7,932 1051.9,926.5C1055.1,920.7 1058.5,914.9 1061.9,909.1C1065.1,903.7 1068.4,898.3 1071.7,892.9C1075,887.5 1078.4,882.1 1081.8,876.8C1085.4,871.1 1089,865.6 1092.8,860.1C1096.4,854.9 1100.2,849.8 1104.2,844.8C1108.1,839.9 1112.2,835.1 1116.4,830.4C1120.7,825.6 1124.9,821 1129.3,816.4C1134,811.6 1138.7,806.9 1143.6,802.4C1148.2,798.1 1152.9,793.8 1157.6,789.5C1162.3,785.2 1166.9,780.9 1171.6,776.6C1176.5,772.1 1181.3,767.6 1186.3,763.1C1190.9,758.8 1195.6,754.5 1200.3,750.3C1205,746.1 1209.8,741.9 1214.7,737.9C1219.8,733.6 1225.2,729.6 1230.6,725.7C1235.7,722 1240.9,718.3 1246,714.6" stroke="#000000"/>
<polygon points="1246,714.6 1228.2,718.2 1239.3,719.4 1236.8,730.3" fill="#000000" stroke="#000000"/>
<path d="M1044.4,943C1047.4,938.2 1050.3,933.3 1053.4,928.5C1056.2,924 1059.2,919.5 1062.2,915.1C1065.5,910.5 1068.8,905.8 1072.3,901.3C1075.8,896.8 1079.4,892.5 1083.3,888.3C1087,884.4 1090.8,880.7 1094.7,877C1098.9,873.2 1103.3,869.6 1107.8,866.1C1113.5,863.3 1119.1,860.4 1124.8,857.6C1130.7,854.6 1136.7,851.7 1142.8,848.9C1148.5,846.2 1154.3,843.6 1160.1,841C1166.2,838.3 1172.3,835.6 1178.4,833C1184.2,830.4 1190,827.9 1195.8,825.4C1202,822.8 1208.1,820.2 1214.2,817.6C1220.1,815.2 1225.9,812.7 1231.7,810.3C1237.9,807.7 1244,805.1 1250.2,802.5C1256,800.1 1261.9,797.6 1267.7,795.2C1273.9,792.6 1280,790.1 1286.2,787.5C1292,785.1 1297.9,782.7 1303.8,780.3C1309.9,777.8 1316.1,775.3 1322.3,772.8C1328.2,770.5 1334,768.1 1339.9,765.7C1346.1,763.2 1352.3,760.7 1358.5,758.2C1364.3,755.9 1370.2,753.5 1376.1,751.1C1382.2,748.5 1388.4,746 1394.5,743.4C1400.4,741 1406.2,738.5 1412.1,736.1C1418.2,733.5 1424.3,730.9 1430.5,728.3C1436.3,725.8 1442.1,723.3 1447.9,720.8C1454.1,718.2 1460.2,715.6 1466.3,713C1472.2,710.5 1478,708 1483.8,705.5C1489.9,702.9 1496.1,700.3 1502.2,697.7C1508,695.2 1513.9,692.7 1519.7,690.3C1525.8,687.7 1532,685.1 1538.1,682.5C1544,680 1549.8,677.5 1555.6,675.1C1561.7,672.5 1567.9,669.8 1574,667.2C1579.8,664.7 1585.7,662.2 1591.5,659.7C1597.6,657.1 1603.7,654.4 1609.8,651.7C1615.6,649.2 1621.4,646.6 1627.2,644.1C1633.3,641.4 1639.4,638.7 1645.5,636C1651.3,633.4 1657.1,630.9 1662.9,628.3C1668.9,625.6 1675,622.9 1681.1,620.2C1686.9,617.6 1692.7,615.1 1698.5,612.5" stroke="#000000"/>
<polygon points="1698.5,612.5 1680.3,612.5 1690.9,615.9 1686.3,626" fill="#000000" stroke="#000000"/>
<path d="M1729.3,611.5C1727.6,617.9 1725.9,624.4 1724.2,630.8C1722.5,637.3 1720.8,643.7 1718.7,650.1C1716.6,656.4 1714.3,662.6 1711.7,668.8C1709.2,675 1706.5,681.1 1703.6,687C1700.6,693 1697.4,698.9 1693.7,704.4C1690.1,710 1686.1,715.3 1681.7,720.4C1677.6,725.2 1673.3,729.8 1668.8,734.3C1664,739 1659.2,743.5 1654.2,748C1649.2,752.4 1644.2,756.8 1639.1,761.1C1634,765.3 1628.7,769.5 1623.4,773.5C1618.1,777.5 1612.6,781.3 1607.1,785.1C1601.6,788.8 1596,792.4 1590.3,795.9C1584.6,799.3 1578.8,802.6 1572.9,805.8C1567,808.9 1561,811.8 1555,814.6C1548.9,817.3 1542.8,820 1536.6,822.4C1530.4,824.9 1524.1,827.2 1517.9,829.5C1511.6,831.7 1505.3,833.9 1498.9,836C1492.6,838.1 1486.3,840.1 1479.9,842.2C1473.6,844.2 1467.2,846.3 1460.9,848.3C1454.5,850.3 1448.2,852.3 1441.7,854.1C1435.7,855.9 1429.6,857.6 1423.4,859.1C1416.9,860.7 1410.4,862.1 1403.9,863.3C1397.3,864.4 1390.7,865.4 1384.1,866.3C1377.5,867.1 1370.8,867.8 1364.2,868.3C1357.5,868.9 1350.9,869.3 1344.2,869.7C1337.6,870 1330.9,870.3 1324.2,870.3C1317.6,870.3 1310.9,870.1 1304.3,869.8C1297.6,869.5 1290.9,869.1 1284.3,868.8C1277.6,868.5 1271,868.1 1264.3,867.8C1257.6,867.4 1251,867.1 1244.3,867C1237.7,866.9 1231,866.9 1224.3,867.2C1217.7,867.4 1211,867.8 1204.4,868.3C1197.7,868.9 1191.1,869.6 1184.5,870.7C1177.9,871.7 1171.4,872.9 1164.9,874.4C1158.7,875.7 1152.5,877.2 1146.5,879C1140.1,881 1133.8,883.1 1127.6,885.5C1121.3,888 1115.3,890.7 1109.4,893.9C1103.5,897 1097.8,900.5 1092.3,904.2C1086.8,907.9 1081.4,911.9 1076.2,916C1071,920.2 1065.9,924.5 1060.9,929C1056,933.4 1051.2,938.1 1046.4,942.7" stroke="#000000"/>
<polygon points="1046.4,942.7 1063.5,936.6 1052.4,937 1053.3,925.9" fill="#000000" stroke="#000000"/>
<path d="M1887.7,829C1883.7,834.3 1879.7,839.6 1875.3,844.6C1870.9,849.6 1866.1,854.3 1861,858.6C1856.2,862.6 1850.9,866.3 1845.4,869.3C1839.6,872.5 1833.5,875.2 1827.3,877.7C1821.1,880.1 1814.8,882.3 1808.4,884.3C1802.1,886.3 1795.7,888.2 1789.3,890C1782.8,891.8 1776.4,893.4 1769.9,894.9C1763.4,896.4 1756.8,897.6 1750.2,898.8C1744,900 1737.8,901 1731.5,901.9C1724.9,903 1718.3,903.9 1711.7,904.9C1705.1,905.8 1698.5,906.6 1691.9,907.4C1685.2,908.2 1678.6,908.9 1672,909.5C1665.3,910.2 1658.7,910.7 1652,911.3C1645.7,911.8 1639.4,912.3 1633.1,912.8C1626.5,913.3 1619.8,913.8 1613.1,914.3C1606.5,914.7 1599.8,915.2 1593.2,915.5C1586.5,915.9 1579.9,916.3 1573.2,916.6C1566.5,916.9 1559.9,917.2 1553.2,917.5C1546.9,917.8 1540.6,918 1534.2,918.2C1527.6,918.5 1520.9,918.7 1514.2,918.8C1507.6,919 1500.9,919.2 1494.2,919.3C1487.6,919.5 1480.9,919.6 1474.2,919.7C1467.6,919.8 1460.9,920 1454.2,920.1C1447.6,920.2 1440.9,920.3 1434.2,920.4C1427.9,920.6 1421.6,920.7 1415.2,920.8C1408.6,921 1401.9,921.1 1395.2,921.3C1388.6,921.4 1381.9,921.5 1375.2,921.7C1368.6,921.8 1361.9,922 1355.2,922.1C1348.6,922.3 1341.9,922.4 1335.2,922.5C1328.9,922.7 1322.6,922.8 1316.2,922.9C1309.6,923.1 1302.9,923.2 1296.2,923.4C1289.6,923.5 1282.9,923.6 1276.2,923.8C1269.6,923.9 1262.9,924.1 1256.2,924.2C1249.6,924.4 1242.9,924.5 1236.2,924.7C1229.9,924.8 1223.6,925 1217.2,925.4C1210.6,925.8 1203.9,926.2 1197.3,926.8C1190.6,927.3 1184,927.8 1177.3,928.5C1170.7,929.1 1164.1,929.9 1157.4,930.6C1150.8,931.4 1144.2,932.2 1137.6,933.2C1131,934.1 1124.4,935.2 1117.9,936.4C1111.7,937.7 1105.5,939.1 1099.4,940.7C1092.9,942.4 1086.5,944.2 1080,945.9C1073.6,947.6 1067.1,949.3 1060.7,951" stroke="#000000"/>
<polygon points="1060.7,951 1078.6,953.9 1068.7,948.9 1074.8,939.6" fill="#000000" stroke="#000000"/>
<path d="M1477.3,962.3C1470.6,962.1 1464,961.9 1457.3,961.7C1450.7,961.5 1444,961.4 1437.3,961.2C1430.7,961 1424,960.8 1417.4,960.6C1411,960.4 1404.7,960.2 1398.4,960C1391.7,959.9 1385.1,959.7 1378.4,959.5C1371.8,959.3 1365.1,959.2 1358.4,959.1C1351.8,959 1345.1,958.9 1338.4,958.9C1331.8,958.9 1325.1,958.9 1318.5,958.8C1311.8,958.8 1305.1,958.8 1298.5,958.8C1291.8,958.7 1285.2,958.7 1278.5,958.7C1272.2,958.7 1265.8,958.6 1259.5,958.6C1252.8,958.6 1246.2,958.6 1239.5,958.5C1232.9,958.5 1226.2,958.5 1219.5,958.6C1212.9,958.6 1206.2,958.6 1199.5,958.7C1192.9,958.7 1186.2,958.8 1179.6,958.8C1172.9,958.9 1166.2,959 1159.6,959C1152.9,959.1 1146.3,959.2 1139.6,959.4C1133.3,959.5 1126.9,959.6 1120.6,959.8C1114,960 1107.3,960.2 1100.6,960.5C1094,960.7 1087.3,961 1080.7,961.2C1074,961.5 1067.4,961.8 1060.7,962" stroke="#000000"/>
<polygon points="1060.7,962 1077.6,968.8 1069,961.7 1077,954" fill="#000000" stroke="#000000"/>
<path d="M1060,972.2C1066.7,972.5 1073.3,972.7 1080,973C1086.7,973.2 1093.3,973.5 1100,973.8C1106.7,974 1113.4,974.3 1120,974.6C1126.4,974.8 1132.7,975 1139,975.3C1145.7,975.5 1152.4,975.7 1159,975.9C1165.7,976.1 1172.4,976.3 1179.1,976.4C1185.7,976.6 1192.4,976.7 1199.1,976.8C1205.7,976.9 1212.4,977 1219.1,977C1225.8,977.1 1232.4,977.2 1239.1,977.2C1245.8,977.2 1252.5,977.3 1259.1,977.3C1265.5,977.3 1271.8,977.3 1278.2,977.3C1284.8,977.3 1291.5,977.3 1298.2,977.3C1304.9,977.3 1311.5,977.2 1318.2,977.2C1324.9,977.2 1331.5,977.1 1338.2,977.1C1344.9,977 1351.6,977 1358.2,976.9C1364.9,976.8 1371.6,976.7 1378.3,976.6C1384.9,976.5 1391.6,976.4 1398.3,976.2C1404.6,976.1 1411,975.9 1417.3,975.7C1424,975.4 1430.6,975.2 1437.3,974.9C1444,974.6 1450.6,974.2 1457.3,973.9C1464,973.6 1470.6,973.3 1477.3,973" stroke="#000000"/>
<polygon points="1477.3,973 1460.4,966.4 1469,973.4 1461.1,981.2" fill="#000000" stroke="#000000"/>
<path d="M1299.2,714.6C1304.6,718.5 1310,722.4 1315.4,726.3C1320.6,730 1325.7,733.7 1330.8,737.5C1336.1,741.4 1341.4,745.5 1346.7,749.5C1351.8,753.3 1356.8,757.2 1361.8,761C1367.1,765.1 1372.4,769.2 1377.6,773.3C1382.5,777.3 1387.4,781.3 1392.2,785.4C1397.3,789.7 1402.2,794.2 1407,798.8C1411.6,803.1 1416.2,807.5 1420.6,812.1C1425.2,816.8 1429.8,821.7 1434.2,826.7C1438.6,831.7 1442.8,836.9 1446.8,842.2C1450.6,847.2 1454.1,852.5 1457.6,857.8C1461.2,863.4 1464.7,869 1468.2,874.7C1471.5,880.1 1474.8,885.5 1478.3,890.8C1481.9,896.4 1485.2,902.1 1488.1,908.1C1490.8,913.8 1493.3,919.7 1495.8,925.5C1498.5,931.6 1501.1,937.7 1503.7,943.8" stroke="#000000"/>
<polygon points="1503.7,943.8 1503.9,925.6 1500.5,936.2 1490.4,931.5" fill="#000000" stroke="#000000"/>
<path d="M1510,943.8C1507.9,937.8 1505.8,931.9 1503.8,925.9C1501.7,919.9 1499.6,913.9 1497.4,908C1495,901.8 1492.6,895.6 1490.2,889.4C1487.9,883.5 1485.6,877.6 1483.2,871.7C1480.8,865.9 1478.2,860.1 1475.3,854.5C1472.4,848.9 1469.1,843.5 1465.5,838.3C1462,833.1 1458.1,828.1 1454,823.2C1449.7,818.1 1445.3,813.2 1440.7,808.3C1436.4,803.7 1432,799.2 1427.6,794.6C1423.2,790.1 1418.7,785.6 1414.2,781.2C1409.7,776.8 1405.1,772.4 1400.5,768.1C1395.9,763.8 1391.2,759.5 1386.4,755.4C1381.7,751.2 1376.8,747.1 1371.8,743.3C1366.5,739.3 1360.9,735.7 1355.1,732.5C1349.5,729.5 1344,726.5 1338.7,723.1C1333.3,719.7 1328.1,716.1 1322.9,712.5" stroke="#000000"/>
<polygon points="1322.9,712.5 1332.5,727.9 1329.8,717.1 1340.8,715.6" fill="#000000" stroke="#000000"/>
<path d="M1236.2,666.7C1233.3,660.7 1229.8,654.7 1228.5,648.2C1227.3,642.1 1230.4,635.7 1234.7,631C1238.9,626.4 1245,623.7 1251,621.8C1257.4,619.7 1264,618.3 1270.7,618.2C1277.3,618.1 1284.1,619 1290.4,621.1C1296.5,623 1302.1,626.3 1306.1,631.2C1310.2,636.1 1313.6,642.4 1311.8,648.4C1310,654.7 1306.4,660.6 1303.7,666.7" stroke="#000000"/>
<polygon points="1303.7,666.7 1317.4,654.8 1307.2,659.2 1304,648.5" fill="#000000" stroke="#000000"/>
<path d="M1259.8,666.7C1259.5,660 1258.5,652.7 1262.3,647.4C1266,642.1 1275.1,642 1278.8,647.3C1282.5,652.5 1281.1,660 1281.3,666.7" stroke="#000000"/>
<polygon points="1281.3,666.7 1287.5,649.6 1280.7,658.4 1272.8,650.7" fill="#000000" stroke="#000000"/>
<path d="M1284.4,666.7C1288.2,661.3 1292.1,655.8 1295.9,650.4C1299.7,645 1303.7,639.6 1307.7,634.3C1311.8,629.1 1316,623.9 1320.3,618.8C1324.5,614.1 1328.8,609.4 1333.2,604.9C1337.9,600.2 1342.7,595.5 1348,591.6C1353.4,587.7 1359.4,584.8 1365.6,582.7C1371.9,580.5 1378.4,579 1384.9,577.4C1391.3,575.9 1397.8,574.5 1404.4,573.3C1410.6,572.2 1416.9,571.3 1423,569.8C1429.4,568.2 1435.7,565.8 1441.7,563.1C1447.8,560.3 1453.7,557.4 1459.9,554.7C1466,552.1 1472.1,549.6 1478.3,547" stroke="#000000"/>
<polygon points="1478.3,547 1460.1,546.6 1470.6,550.2 1465.8,560.2" fill="#000000" stroke="#000000"/>
<path d="M1293.7,666.7C1298.6,662.7 1303.6,658.8 1308.6,654.9C1313.8,650.8 1319.2,646.9 1324.7,643.1C1330,639.6 1335.3,636.2 1340.7,632.8C1346.1,629.5 1351.5,626.3 1357.2,623.5C1362.9,620.7 1368.7,618.3 1374.6,616C1380.8,613.5 1387.1,611.3 1393.4,609.2C1399.4,607.2 1405.5,605.3 1411.6,603.6C1417.7,601.8 1423.8,600.3 1430,598.8C1436.1,597.4 1442.3,596.1 1448.6,594.9C1455.1,593.7 1461.7,592.6 1468.3,591.5C1474.5,590.6 1480.8,589.7 1487.1,588.9C1493.3,588.1 1499.6,587.4 1505.9,586.8C1512.6,586.2 1519.2,585.6 1525.9,585.2C1532.2,584.8 1538.5,584.4 1544.8,584.1C1551.2,583.8 1557.5,583.5 1563.8,583.3C1570.1,583.1 1576.5,582.9 1582.8,582.7C1589.5,582.6 1596.1,582.4 1602.8,582.4C1609.1,582.3 1615.5,582.3 1621.8,582.4C1628.1,582.5 1634.4,582.6 1640.8,582.7C1647.1,582.8 1653.4,583 1659.8,583.1C1666.4,583.3 1673.1,583.5 1679.8,583.6C1686.1,583.8 1692.4,583.9 1698.8,584" stroke="#000000"/>
<polygon points="1698.8,584 1682.3,576.3 1690.5,583.8 1682,591.1" fill="#000000" stroke="#000000"/>
<path d="M1698.7,594.5C1692.6,595.8 1686.4,597.1 1680.2,598.3C1674,599.6 1667.8,600.9 1661.5,602.2C1655,603.5 1648.5,604.9 1642,606.2C1635.8,607.5 1629.6,608.7 1623.4,610C1617.2,611.3 1611,612.6 1604.8,613.9C1598.2,615.2 1591.7,616.6 1585.2,617.9C1579,619.2 1572.8,620.5 1566.6,621.8C1560.4,623.1 1554.2,624.4 1548,625.7C1541.8,627 1535.6,628.4 1529.5,629.7C1523.3,631.1 1517.1,632.4 1510.9,633.8C1504.4,635.3 1497.9,636.7 1491.4,638.2C1485.2,639.6 1479,641 1472.9,642.4C1466.7,643.8 1460.5,645.1 1454.3,646.5C1447.8,648 1441.3,649.4 1434.8,650.8C1428.6,652.1 1422.4,653.4 1416.2,654.6C1410,655.8 1403.8,657 1397.5,658C1391.3,659.1 1385,660.1 1378.8,661.2C1372.6,662.3 1366.3,663.5 1360.2,664.9C1353.7,666.3 1347.2,668.1 1340.8,669.9C1334.8,671.7 1328.7,673.4 1322.6,675.2" stroke="#000000"/>
<polygon points="1322.6,675.2 1340.6,677.7 1330.6,672.9 1336.5,663.5" fill="#000000" stroke="#000000"/>
<path d="M1562.5,545C1568.3,546.6 1574.1,548.2 1579.9,549.8C1585.7,551.3 1591.5,552.9 1597.3,554.5C1602.8,556.1 1608.2,557.6 1613.7,559.1C1619.5,560.7 1625.3,562.3 1631.1,564C1636.9,565.6 1642.6,567.3 1648.4,569.1C1653.8,570.7 1659.2,572.5 1664.6,574.3C1670.3,576.2 1676,578.1 1681.7,580.1C1687.4,582.1 1693.1,584.1 1698.8,586" stroke="#000000"/>
<polygon points="1698.8,586 1685.5,573.6 1690.9,583.3 1680.6,587.6" fill="#000000" stroke="#000000"/>
<path d="M1699.3,563.8C1693.7,561.7 1688.1,559.5 1682.5,557.4C1676.8,555.3 1671.2,553.3 1665.5,551.4C1660.1,549.6 1654.7,547.9 1649.3,546.3C1643.5,544.5 1637.8,542.8 1632,541C1626.3,539.3 1620.5,537.6 1614.8,536C1609.3,534.4 1603.8,533 1598.3,531.6C1592.5,530.3 1586.6,529.1 1580.7,527.9C1574.8,526.8 1568.9,525.7 1563,524.5" stroke="#000000"/>
<polygon points="1563,524.5 1577.9,534.9 1571.1,526.1 1580.7,520.4" fill="#000000" stroke="#000000"/>
<path d="M1720,563.8C1720,558.5 1719.1,552.9 1720.7,548C1722.5,542.8 1728.3,539.7 1733.9,539.7C1739.4,539.8 1744.8,543.2 1747.2,548.2C1749.4,552.9 1749.2,558.5 1749.5,563.8" stroke="#000000"/>
<polygon points="1749.5,563.8 1754,546.2 1748.1,555.6 1739.4,548.7" fill="#000000" stroke="#000000"/>
<path d="M1754,611.5C1797.9,668.1 1841.7,724.6 1885.6,781.2" stroke="#000000"/>
<polygon points="1885.6,781.2 1881.3,763.5 1880.5,774.6 1869.6,772.6" fill="#000000" stroke="#000000"/>
<path d="M1891.6,781.2C1891.4,774.6 1891.6,767.5 1895.4,762.1C1899.2,756.8 1907.7,756.6 1911.3,762.2C1914.9,767.7 1915.5,774.6 1916.1,781.2" stroke="#000000"/>
<polygon points="1916.1,781.2 1920.1,763.5 1914.5,773.1 1905.5,766.4" fill="#000000" stroke="#000000"/>
<path d="M1862.5,794C1856,792.6 1849.5,791.1 1843,789.7C1836.8,788.4 1830.6,787 1824.4,785.6C1817.9,784.2 1811.4,782.8 1804.9,781.3C1798.4,779.9 1791.9,778.4 1785.4,776.9C1779.2,775.5 1773.1,774.1 1766.9,772.7C1760.4,771.3 1753.9,769.8 1747.4,768.3C1740.9,766.8 1734.4,765.4 1727.9,763.9C1721.8,762.4 1715.6,761 1709.4,759.6C1702.9,758.1 1696.5,756.5 1690,754.9C1683.8,753.4 1677.7,752 1671.5,750.5C1665,749.1 1658.5,747.6 1652,746.2C1645.5,744.7 1639,743.3 1632.5,741.9C1626.3,740.5 1620.1,739.2 1613.9,737.8C1607.4,736.4 1600.9,735.1 1594.4,733.7C1587.9,732.3 1581.4,731 1574.8,729.6C1568.6,728.4 1562.4,727.2 1556.2,726C1549.7,724.7 1543.1,723.5 1536.6,722.3C1530,721.1 1523.4,719.9 1516.9,718.7C1510.7,717.6 1504.4,716.5 1498.2,715.5C1491.6,714.3 1485,713.2 1478.5,712.2C1472.2,711.2 1466,710.2 1459.7,709.2C1453.1,708.2 1446.5,707.2 1439.9,706.3C1433.3,705.4 1426.7,704.5 1420.1,703.7C1413.8,702.9 1407.6,702.1 1401.3,701.5C1394.6,700.8 1388,700.2 1381.4,699.6C1374.7,699 1368.1,698.5 1361.5,698C1355.1,697.5 1348.8,697 1342.5,696.5C1335.9,696 1329.2,695.5 1322.6,694.9" stroke="#000000"/>
<polygon points="1322.6,694.9 1338.5,703.6 1330.9,695.6 1339.8,688.9" fill="#000000" stroke="#000000"/>
</g>
<g fill="#fff" stroke="#000" stroke-width="1.33">
<rect x="5" y="1110.8" width="72.5" height="47.8"/>
<rect x="128" y="1147.8" width="80" height="47.8"/>
<rect x="258.8" y="1110.8" width="74.5" height="47.8"/>
<rect x="496" y="724" width="80" height="47.8"/>
<rect x="712" y="637.4" width="72" height="47.6"/>
<rect x="599.5" y="1507.8" width="72.5" height="48.2"/>
<rect x="987.8" y="942.8" width="72.2" height="47.8"/>
<rect x="1218.5" y="666.6" width="104.1" height="47.8"/>
<rect x="1234.8" y="1356" width="72.2" height="48"/>
<rect x="1469" y="498.8" width="93.5" height="47.8"/>
<rect x="1477.3" y="943.8" width="77.5" height="48.2"/>
<rect x="1698.8" y="563.8" width="72" height="47.7"/>
<rect x="1862.6" y="781.2" width="83.1" height="48.2"/>
<rect x="1997.3" y="563.9" width="72.2" height="47.6"/>
</g>
<g font-size="14.67" text-anchor="middle" fill="#000" stroke="#000" stroke-width="0.2">
<text x="41.2" y="1139.3">Start</text>
<text x="168" y="1176.3">Hashbang</text>
<text x="296" y="1139.3" textLength="52.3" lengthAdjust="spacing">Between</text>
<text x="536" y="752.6" textLength="57.8" lengthAdjust="spacing">Expecting</text>
<text x="748" y="665.9">Heredoc</text>
<text x="635.8" y="1536.6">Pod</text>
<text x="1023.9" y="971.3">Endable</text>
<text x="1270.5" y="695.2" textLength="81" lengthAdjust="spacing">In_expression</text>
<text x="1270.9" y="1384.7">End</text>
<text x="1515.8" y="527.3">Need_quote</text>
<text x="1516" y="972.6" textLength="56.5" lengthAdjust="spacing">Comment</text>
<text x="1734.8" y="592.4">Quoted</text>
<text x="1904.2" y="810" textLength="60.5" lengthAdjust="spacing">Modifiable</text>
<text x="2033.4" y="592.4">Error</text>
</g>
<g font-size="18.67" text-anchor="middle" stroke-width="0.3">
<text x="1271" y="80.5" fill="#ff0000" stroke="#ff0000">eof</text>
<text x="1271.2" y="150" fill="#ff0000" stroke="#ff0000" textLength="87.2" lengthAdjust="spacing">end_marker</text>
<text x="1516.2" y="296.7" fill="#ff0000" stroke="#ff0000">eof</text>
<text x="1904.6" y="583.2" fill="#ff0000" stroke="#ff0000">quote</text>
<text x="1632" y="984.5" fill="#ff0000" stroke="#ff0000">eof</text>
<text x="1630" y="1074.8" fill="#ff0000" stroke="#ff0000" textLength="40.5" lengthAdjust="spacing">token</text>
<text x="1631" y="1127.8" fill="#ff0000" stroke="#ff0000" textLength="87.2" lengthAdjust="spacing">end_marker</text>
<text x="1396.4" y="1293" fill="#ff0000" stroke="#ff0000">eof</text>
<text x="1396.4" y="1542.2" fill="#ff0000" stroke="#ff0000">eof</text>
<text x="1151" y="1127.8" fill="#0000ff" stroke="#0000ff" textLength="87.2" lengthAdjust="spacing">end_marker</text>
<text x="1151.6" y="1285.5" fill="#0000ff" stroke="#0000ff">eof</text>
<text x="748" y="1389.8" fill="#0000ff" stroke="#0000ff" textLength="87.2" lengthAdjust="spacing">end_marker</text>
<text x="748.9" y="1431" fill="#0000ff" stroke="#0000ff">eof</text>
<text x="883.9" y="1500.5" fill="#0000ff" stroke="#0000ff">eof</text>
<text x="882.9" y="251.7" fill="#000" stroke="#000" textLength="96.3" lengthAdjust="spacing">quotingtoken</text>
<text x="1150" y="419.5" fill="#000" stroke="#000">quote</text>
<text x="1024" y="499.5" fill="#000" stroke="#000" textLength="96.3" lengthAdjust="spacing">quotingtoken</text>
<text x="1270.6" y="520.8" fill="#000" stroke="#000" textLength="96.3" lengthAdjust="spacing">quotingtoken</text>
<text x="1396" y="559.5" fill="#000" stroke="#000" textLength="96.3" lengthAdjust="spacing">quotingtoken</text>
<text x="1734.5" y="535.5" fill="#000" stroke="#000" textLength="78" lengthAdjust="spacing">quotedtext</text>
<text x="1516" y="619.5" fill="#000" stroke="#000">quote</text>
<text x="1816" y="661.5" fill="#000" stroke="#000">quote</text>
<text x="1903.4" y="752" fill="#000" stroke="#000" textLength="61.9" lengthAdjust="spacing">modifier</text>
<text x="1270.3" y="613.2" fill="#000" stroke="#000" textLength="81.6" lengthAdjust="spacing">whitespace</text>
<text x="1270.5" y="637.4" fill="#000" stroke="#000" textLength="40.5" lengthAdjust="spacing">token</text>
<text x="747.7" y="584.7" fill="#000" stroke="#000" textLength="116.3" lengthAdjust="spacing">here_terminator</text>
<text x="747.9" y="608.6" fill="#000" stroke="#000" textLength="68.3" lengthAdjust="spacing">here_text</text>
<text x="1023.8" y="636.5" fill="#000" stroke="#000" textLength="116.3" lengthAdjust="spacing">here_terminator</text>
<text x="882.6" y="669.2" fill="#000" stroke="#000" textLength="116.3" lengthAdjust="spacing">here_terminator</text>
<text x="883" y="721.5" fill="#000" stroke="#000" textLength="104.1" lengthAdjust="spacing">here_specifier</text>
<text x="536.4" y="647.1" fill="#000" stroke="#000" textLength="81.6" lengthAdjust="spacing">whitespace</text>
<text x="535.6" y="670.6" fill="#000" stroke="#000" textLength="40.5" lengthAdjust="spacing">token</text>
<text x="535.9" y="695.6" fill="#000" stroke="#000" textLength="104.1" lengthAdjust="spacing">here_specifier</text>
<text x="636.2" y="677" fill="#000" stroke="#000" textLength="56.3" lengthAdjust="spacing">newline</text>
<text x="414.4" y="859.5" fill="#000" stroke="#000" textLength="104.1" lengthAdjust="spacing">here_specifier</text>
<text x="747.9" y="835.2" fill="#000" stroke="#000" textLength="104.1" lengthAdjust="spacing">here_specifier</text>
<text x="1396.4" y="847.8" fill="#000" stroke="#000">quote</text>
<text x="415" y="1467.2" fill="#000" stroke="#000" textLength="104.4" lengthAdjust="spacing">pod_primitive</text>
<text x="414.5" y="1514" fill="#000" stroke="#000">pod_terminator</text>
<text x="635.6" y="1479.8" fill="#000" stroke="#000">podtext</text>
</g>
</svg></body></html>
